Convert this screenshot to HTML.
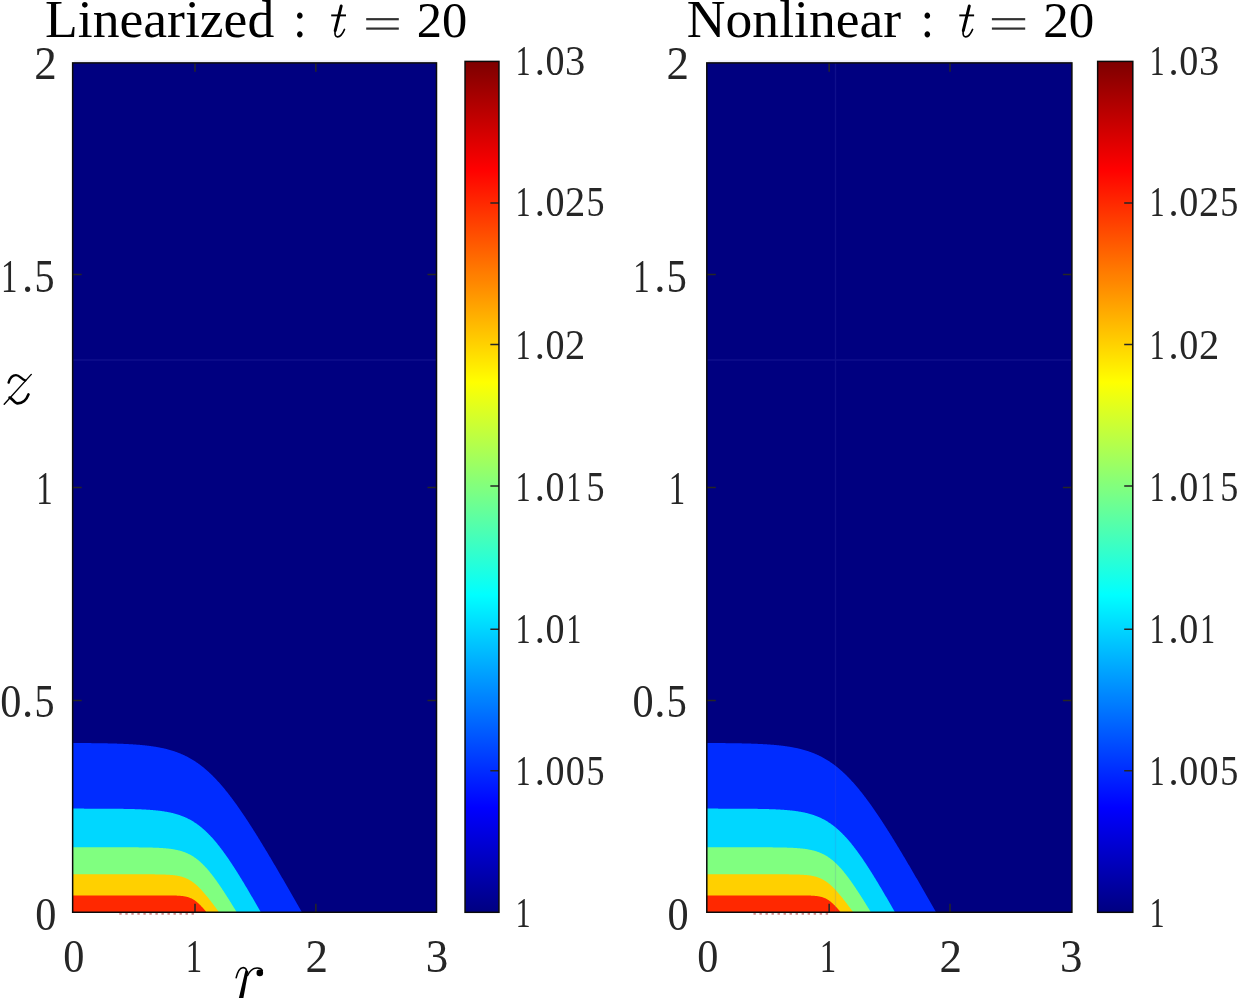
<!DOCTYPE html>
<html><head><meta charset="utf-8"><style>
html,body{margin:0;padding:0;background:#fff;width:1240px;height:999px;overflow:hidden}
svg{display:block;will-change:transform}
text{fill:#000}
.tl{fill:#262626}
</style></head><body>
<svg width="1240" height="999" viewBox="0 0 1240 999">
<defs><linearGradient id="jet" x1="0" y1="0" x2="0" y2="1"><stop offset="0.0020" stop-color="#800000"/><stop offset="0.0059" stop-color="#830000"/><stop offset="0.0098" stop-color="#870000"/><stop offset="0.0137" stop-color="#8b0000"/><stop offset="0.0176" stop-color="#8f0000"/><stop offset="0.0215" stop-color="#930000"/><stop offset="0.0254" stop-color="#970000"/><stop offset="0.0293" stop-color="#9b0000"/><stop offset="0.0332" stop-color="#9f0000"/><stop offset="0.0371" stop-color="#a30000"/><stop offset="0.0410" stop-color="#a70000"/><stop offset="0.0449" stop-color="#ab0000"/><stop offset="0.0488" stop-color="#af0000"/><stop offset="0.0527" stop-color="#b30000"/><stop offset="0.0566" stop-color="#b70000"/><stop offset="0.0605" stop-color="#bb0000"/><stop offset="0.0645" stop-color="#bf0000"/><stop offset="0.0684" stop-color="#c30000"/><stop offset="0.0723" stop-color="#c70000"/><stop offset="0.0762" stop-color="#cb0000"/><stop offset="0.0801" stop-color="#cf0000"/><stop offset="0.0840" stop-color="#d30000"/><stop offset="0.0879" stop-color="#d70000"/><stop offset="0.0918" stop-color="#db0000"/><stop offset="0.0957" stop-color="#df0000"/><stop offset="0.0996" stop-color="#e30000"/><stop offset="0.1035" stop-color="#e70000"/><stop offset="0.1074" stop-color="#eb0000"/><stop offset="0.1113" stop-color="#ef0000"/><stop offset="0.1152" stop-color="#f30000"/><stop offset="0.1191" stop-color="#f70000"/><stop offset="0.1230" stop-color="#fb0000"/><stop offset="0.1270" stop-color="#ff0000"/><stop offset="0.1309" stop-color="#ff0400"/><stop offset="0.1348" stop-color="#ff0800"/><stop offset="0.1387" stop-color="#ff0c00"/><stop offset="0.1426" stop-color="#ff1000"/><stop offset="0.1465" stop-color="#ff1400"/><stop offset="0.1504" stop-color="#ff1800"/><stop offset="0.1543" stop-color="#ff1c00"/><stop offset="0.1582" stop-color="#ff2000"/><stop offset="0.1621" stop-color="#ff2400"/><stop offset="0.1660" stop-color="#ff2800"/><stop offset="0.1699" stop-color="#ff2c00"/><stop offset="0.1738" stop-color="#ff3000"/><stop offset="0.1777" stop-color="#ff3400"/><stop offset="0.1816" stop-color="#ff3800"/><stop offset="0.1855" stop-color="#ff3c00"/><stop offset="0.1895" stop-color="#ff4000"/><stop offset="0.1934" stop-color="#ff4400"/><stop offset="0.1973" stop-color="#ff4800"/><stop offset="0.2012" stop-color="#ff4c00"/><stop offset="0.2051" stop-color="#ff5000"/><stop offset="0.2090" stop-color="#ff5400"/><stop offset="0.2129" stop-color="#ff5800"/><stop offset="0.2168" stop-color="#ff5c00"/><stop offset="0.2207" stop-color="#ff6000"/><stop offset="0.2246" stop-color="#ff6400"/><stop offset="0.2285" stop-color="#ff6800"/><stop offset="0.2324" stop-color="#ff6c00"/><stop offset="0.2363" stop-color="#ff7000"/><stop offset="0.2402" stop-color="#ff7400"/><stop offset="0.2441" stop-color="#ff7800"/><stop offset="0.2480" stop-color="#ff7c00"/><stop offset="0.2520" stop-color="#ff8000"/><stop offset="0.2559" stop-color="#ff8300"/><stop offset="0.2598" stop-color="#ff8700"/><stop offset="0.2637" stop-color="#ff8b00"/><stop offset="0.2676" stop-color="#ff8f00"/><stop offset="0.2715" stop-color="#ff9300"/><stop offset="0.2754" stop-color="#ff9700"/><stop offset="0.2793" stop-color="#ff9b00"/><stop offset="0.2832" stop-color="#ff9f00"/><stop offset="0.2871" stop-color="#ffa300"/><stop offset="0.2910" stop-color="#ffa700"/><stop offset="0.2949" stop-color="#ffab00"/><stop offset="0.2988" stop-color="#ffaf00"/><stop offset="0.3027" stop-color="#ffb300"/><stop offset="0.3066" stop-color="#ffb700"/><stop offset="0.3105" stop-color="#ffbb00"/><stop offset="0.3145" stop-color="#ffbf00"/><stop offset="0.3184" stop-color="#ffc300"/><stop offset="0.3223" stop-color="#ffc700"/><stop offset="0.3262" stop-color="#ffcb00"/><stop offset="0.3301" stop-color="#ffcf00"/><stop offset="0.3340" stop-color="#ffd300"/><stop offset="0.3379" stop-color="#ffd700"/><stop offset="0.3418" stop-color="#ffdb00"/><stop offset="0.3457" stop-color="#ffdf00"/><stop offset="0.3496" stop-color="#ffe300"/><stop offset="0.3535" stop-color="#ffe700"/><stop offset="0.3574" stop-color="#ffeb00"/><stop offset="0.3613" stop-color="#ffef00"/><stop offset="0.3652" stop-color="#fff300"/><stop offset="0.3691" stop-color="#fff700"/><stop offset="0.3730" stop-color="#fffb00"/><stop offset="0.3770" stop-color="#ffff00"/><stop offset="0.3809" stop-color="#fbff04"/><stop offset="0.3848" stop-color="#f7ff08"/><stop offset="0.3887" stop-color="#f3ff0c"/><stop offset="0.3926" stop-color="#efff10"/><stop offset="0.3965" stop-color="#ebff14"/><stop offset="0.4004" stop-color="#e7ff18"/><stop offset="0.4043" stop-color="#e3ff1c"/><stop offset="0.4082" stop-color="#dfff20"/><stop offset="0.4121" stop-color="#dbff24"/><stop offset="0.4160" stop-color="#d7ff28"/><stop offset="0.4199" stop-color="#d3ff2c"/><stop offset="0.4238" stop-color="#cfff30"/><stop offset="0.4277" stop-color="#cbff34"/><stop offset="0.4316" stop-color="#c7ff38"/><stop offset="0.4355" stop-color="#c3ff3c"/><stop offset="0.4395" stop-color="#bfff40"/><stop offset="0.4434" stop-color="#bbff44"/><stop offset="0.4473" stop-color="#b7ff48"/><stop offset="0.4512" stop-color="#b3ff4c"/><stop offset="0.4551" stop-color="#afff50"/><stop offset="0.4590" stop-color="#abff54"/><stop offset="0.4629" stop-color="#a7ff58"/><stop offset="0.4668" stop-color="#a3ff5c"/><stop offset="0.4707" stop-color="#9fff60"/><stop offset="0.4746" stop-color="#9bff64"/><stop offset="0.4785" stop-color="#97ff68"/><stop offset="0.4824" stop-color="#93ff6c"/><stop offset="0.4863" stop-color="#8fff70"/><stop offset="0.4902" stop-color="#8bff74"/><stop offset="0.4941" stop-color="#87ff78"/><stop offset="0.4980" stop-color="#83ff7c"/><stop offset="0.5020" stop-color="#80ff80"/><stop offset="0.5059" stop-color="#7cff83"/><stop offset="0.5098" stop-color="#78ff87"/><stop offset="0.5137" stop-color="#74ff8b"/><stop offset="0.5176" stop-color="#70ff8f"/><stop offset="0.5215" stop-color="#6cff93"/><stop offset="0.5254" stop-color="#68ff97"/><stop offset="0.5293" stop-color="#64ff9b"/><stop offset="0.5332" stop-color="#60ff9f"/><stop offset="0.5371" stop-color="#5cffa3"/><stop offset="0.5410" stop-color="#58ffa7"/><stop offset="0.5449" stop-color="#54ffab"/><stop offset="0.5488" stop-color="#50ffaf"/><stop offset="0.5527" stop-color="#4cffb3"/><stop offset="0.5566" stop-color="#48ffb7"/><stop offset="0.5605" stop-color="#44ffbb"/><stop offset="0.5645" stop-color="#40ffbf"/><stop offset="0.5684" stop-color="#3cffc3"/><stop offset="0.5723" stop-color="#38ffc7"/><stop offset="0.5762" stop-color="#34ffcb"/><stop offset="0.5801" stop-color="#30ffcf"/><stop offset="0.5840" stop-color="#2cffd3"/><stop offset="0.5879" stop-color="#28ffd7"/><stop offset="0.5918" stop-color="#24ffdb"/><stop offset="0.5957" stop-color="#20ffdf"/><stop offset="0.5996" stop-color="#1cffe3"/><stop offset="0.6035" stop-color="#18ffe7"/><stop offset="0.6074" stop-color="#14ffeb"/><stop offset="0.6113" stop-color="#10ffef"/><stop offset="0.6152" stop-color="#0cfff3"/><stop offset="0.6191" stop-color="#08fff7"/><stop offset="0.6230" stop-color="#04fffb"/><stop offset="0.6270" stop-color="#00ffff"/><stop offset="0.6309" stop-color="#00fbff"/><stop offset="0.6348" stop-color="#00f7ff"/><stop offset="0.6387" stop-color="#00f3ff"/><stop offset="0.6426" stop-color="#00efff"/><stop offset="0.6465" stop-color="#00ebff"/><stop offset="0.6504" stop-color="#00e7ff"/><stop offset="0.6543" stop-color="#00e3ff"/><stop offset="0.6582" stop-color="#00dfff"/><stop offset="0.6621" stop-color="#00dbff"/><stop offset="0.6660" stop-color="#00d7ff"/><stop offset="0.6699" stop-color="#00d3ff"/><stop offset="0.6738" stop-color="#00cfff"/><stop offset="0.6777" stop-color="#00cbff"/><stop offset="0.6816" stop-color="#00c7ff"/><stop offset="0.6855" stop-color="#00c3ff"/><stop offset="0.6895" stop-color="#00bfff"/><stop offset="0.6934" stop-color="#00bbff"/><stop offset="0.6973" stop-color="#00b7ff"/><stop offset="0.7012" stop-color="#00b3ff"/><stop offset="0.7051" stop-color="#00afff"/><stop offset="0.7090" stop-color="#00abff"/><stop offset="0.7129" stop-color="#00a7ff"/><stop offset="0.7168" stop-color="#00a3ff"/><stop offset="0.7207" stop-color="#009fff"/><stop offset="0.7246" stop-color="#009bff"/><stop offset="0.7285" stop-color="#0097ff"/><stop offset="0.7324" stop-color="#0093ff"/><stop offset="0.7363" stop-color="#008fff"/><stop offset="0.7402" stop-color="#008bff"/><stop offset="0.7441" stop-color="#0087ff"/><stop offset="0.7480" stop-color="#0083ff"/><stop offset="0.7520" stop-color="#0080ff"/><stop offset="0.7559" stop-color="#007cff"/><stop offset="0.7598" stop-color="#0078ff"/><stop offset="0.7637" stop-color="#0074ff"/><stop offset="0.7676" stop-color="#0070ff"/><stop offset="0.7715" stop-color="#006cff"/><stop offset="0.7754" stop-color="#0068ff"/><stop offset="0.7793" stop-color="#0064ff"/><stop offset="0.7832" stop-color="#0060ff"/><stop offset="0.7871" stop-color="#005cff"/><stop offset="0.7910" stop-color="#0058ff"/><stop offset="0.7949" stop-color="#0054ff"/><stop offset="0.7988" stop-color="#0050ff"/><stop offset="0.8027" stop-color="#004cff"/><stop offset="0.8066" stop-color="#0048ff"/><stop offset="0.8105" stop-color="#0044ff"/><stop offset="0.8145" stop-color="#0040ff"/><stop offset="0.8184" stop-color="#003cff"/><stop offset="0.8223" stop-color="#0038ff"/><stop offset="0.8262" stop-color="#0034ff"/><stop offset="0.8301" stop-color="#0030ff"/><stop offset="0.8340" stop-color="#002cff"/><stop offset="0.8379" stop-color="#0028ff"/><stop offset="0.8418" stop-color="#0024ff"/><stop offset="0.8457" stop-color="#0020ff"/><stop offset="0.8496" stop-color="#001cff"/><stop offset="0.8535" stop-color="#0018ff"/><stop offset="0.8574" stop-color="#0014ff"/><stop offset="0.8613" stop-color="#0010ff"/><stop offset="0.8652" stop-color="#000cff"/><stop offset="0.8691" stop-color="#0008ff"/><stop offset="0.8730" stop-color="#0004ff"/><stop offset="0.8770" stop-color="#0000ff"/><stop offset="0.8809" stop-color="#0000fb"/><stop offset="0.8848" stop-color="#0000f7"/><stop offset="0.8887" stop-color="#0000f3"/><stop offset="0.8926" stop-color="#0000ef"/><stop offset="0.8965" stop-color="#0000eb"/><stop offset="0.9004" stop-color="#0000e7"/><stop offset="0.9043" stop-color="#0000e3"/><stop offset="0.9082" stop-color="#0000df"/><stop offset="0.9121" stop-color="#0000db"/><stop offset="0.9160" stop-color="#0000d7"/><stop offset="0.9199" stop-color="#0000d3"/><stop offset="0.9238" stop-color="#0000cf"/><stop offset="0.9277" stop-color="#0000cb"/><stop offset="0.9316" stop-color="#0000c7"/><stop offset="0.9355" stop-color="#0000c3"/><stop offset="0.9395" stop-color="#0000bf"/><stop offset="0.9434" stop-color="#0000bb"/><stop offset="0.9473" stop-color="#0000b7"/><stop offset="0.9512" stop-color="#0000b3"/><stop offset="0.9551" stop-color="#0000af"/><stop offset="0.9590" stop-color="#0000ab"/><stop offset="0.9629" stop-color="#0000a7"/><stop offset="0.9668" stop-color="#0000a3"/><stop offset="0.9707" stop-color="#00009f"/><stop offset="0.9746" stop-color="#00009b"/><stop offset="0.9785" stop-color="#000097"/><stop offset="0.9824" stop-color="#000093"/><stop offset="0.9863" stop-color="#00008f"/><stop offset="0.9902" stop-color="#00008b"/><stop offset="0.9941" stop-color="#000087"/><stop offset="0.9980" stop-color="#000083"/></linearGradient></defs>
<rect width="1240" height="999" fill="#fff"/>
<rect x="74.15" y="60.30" width="362.35" height="1.8" fill="#eeeefb"/>
<rect x="72.65" y="62.9" width="363.85" height="849.35" fill="#000080"/>
<path d="M72.65,912.25 L72.65,742.99 L73.08,742.99 L73.51,743.00 L73.94,743.00 L74.37,743.00 L74.80,743.00 L75.23,743.00 L75.66,743.01 L76.09,743.01 L76.51,743.01 L76.94,743.01 L77.37,743.02 L77.80,743.02 L78.23,743.02 L78.66,743.02 L79.09,743.03 L79.52,743.03 L79.95,743.03 L80.38,743.03 L80.81,743.04 L81.24,743.04 L81.67,743.04 L82.10,743.05 L82.53,743.05 L82.96,743.05 L83.38,743.06 L83.81,743.06 L84.24,743.06 L84.67,743.07 L85.10,743.07 L85.53,743.07 L85.96,743.08 L86.39,743.08 L86.82,743.08 L87.25,743.09 L87.68,743.09 L88.11,743.09 L88.54,743.10 L88.97,743.10 L89.40,743.11 L89.83,743.11 L90.25,743.12 L90.68,743.12 L91.11,743.12 L91.54,743.13 L91.97,743.13 L92.40,743.14 L92.83,743.14 L93.26,743.15 L93.69,743.15 L94.12,743.16 L94.55,743.16 L94.98,743.17 L95.41,743.17 L95.84,743.18 L96.27,743.18 L96.70,743.19 L97.12,743.20 L97.55,743.20 L97.98,743.21 L98.41,743.21 L98.84,743.22 L99.27,743.23 L99.70,743.23 L100.13,743.24 L100.56,743.25 L100.99,743.25 L101.42,743.26 L101.85,743.27 L102.28,743.28 L102.71,743.28 L103.14,743.29 L103.57,743.30 L103.99,743.31 L104.42,743.31 L104.85,743.32 L105.28,743.33 L105.71,743.34 L106.14,743.35 L106.57,743.36 L107.00,743.36 L107.43,743.37 L107.86,743.38 L108.29,743.39 L108.72,743.40 L109.15,743.41 L109.58,743.42 L110.01,743.43 L110.44,743.44 L110.87,743.45 L111.29,743.46 L111.72,743.47 L112.15,743.49 L112.58,743.50 L113.01,743.51 L113.44,743.52 L113.87,743.53 L114.30,743.55 L114.73,743.56 L115.16,743.57 L115.59,743.58 L116.02,743.60 L116.45,743.61 L116.88,743.62 L117.31,743.64 L117.74,743.65 L118.16,743.67 L118.59,743.68 L119.02,743.70 L119.45,743.71 L119.88,743.73 L120.31,743.74 L120.74,743.76 L121.17,743.78 L121.60,743.79 L122.03,743.81 L122.46,743.83 L122.89,743.85 L123.32,743.86 L123.75,743.88 L124.18,743.90 L124.61,743.92 L125.03,743.94 L125.46,743.96 L125.89,743.98 L126.32,744.00 L126.75,744.02 L127.18,744.04 L127.61,744.06 L128.04,744.09 L128.47,744.11 L128.90,744.13 L129.33,744.16 L129.76,744.18 L130.19,744.20 L130.62,744.23 L131.05,744.25 L131.48,744.28 L131.90,744.31 L132.33,744.33 L132.76,744.36 L133.19,744.39 L133.62,744.41 L134.05,744.44 L134.48,744.47 L134.91,744.50 L135.34,744.53 L135.77,744.56 L136.20,744.59 L136.63,744.63 L137.06,744.66 L137.49,744.69 L137.92,744.73 L138.35,744.76 L138.77,744.80 L139.20,744.83 L139.63,744.87 L140.06,744.90 L140.49,744.94 L140.92,744.98 L141.35,745.02 L141.78,745.06 L142.21,745.10 L142.64,745.14 L143.07,745.18 L143.50,745.22 L143.93,745.27 L144.36,745.31 L144.79,745.36 L145.22,745.40 L145.64,745.45 L146.07,745.50 L146.50,745.55 L146.93,745.59 L147.36,745.64 L147.79,745.70 L148.22,745.75 L148.65,745.80 L149.08,745.85 L149.51,745.91 L149.94,745.96 L150.37,746.02 L150.80,746.08 L151.23,746.14 L151.66,746.20 L152.09,746.26 L152.52,746.32 L152.94,746.38 L153.37,746.45 L153.80,746.51 L154.23,746.58 L154.66,746.64 L155.09,746.71 L155.52,746.78 L155.95,746.85 L156.38,746.93 L156.81,747.00 L157.24,747.07 L157.67,747.15 L158.10,747.23 L158.53,747.31 L158.96,747.39 L159.39,747.47 L159.81,747.55 L160.24,747.63 L160.67,747.72 L161.10,747.81 L161.53,747.89 L161.96,747.98 L162.39,748.08 L162.82,748.17 L163.25,748.26 L163.68,748.36 L164.11,748.46 L164.54,748.56 L164.97,748.66 L165.40,748.76 L165.83,748.87 L166.26,748.97 L166.68,749.08 L167.11,749.19 L167.54,749.30 L167.97,749.41 L168.40,749.53 L168.83,749.64 L169.26,749.76 L169.69,749.88 L170.12,750.01 L170.55,750.13 L170.98,750.26 L171.41,750.39 L171.84,750.52 L172.27,750.65 L172.70,750.78 L173.13,750.92 L173.55,751.06 L173.98,751.20 L174.41,751.35 L174.84,751.49 L175.27,751.64 L175.70,751.79 L176.13,751.94 L176.56,752.10 L176.99,752.25 L177.42,752.41 L177.85,752.57 L178.28,752.74 L178.71,752.91 L179.14,753.08 L179.57,753.25 L180.00,753.42 L180.42,753.60 L180.85,753.78 L181.28,753.96 L181.71,754.14 L182.14,754.33 L182.57,754.52 L183.00,754.71 L183.43,754.91 L183.86,755.11 L184.29,755.31 L184.72,755.51 L185.15,755.72 L185.58,755.93 L186.01,756.14 L186.44,756.36 L186.87,756.58 L187.30,756.80 L187.72,757.02 L188.15,757.25 L188.58,757.48 L189.01,757.71 L189.44,757.95 L189.87,758.19 L190.30,758.43 L190.73,758.68 L191.16,758.93 L191.59,759.18 L192.02,759.44 L192.45,759.70 L192.88,759.96 L193.31,760.22 L193.74,760.49 L194.17,760.76 L194.59,761.04 L195.02,761.32 L195.45,761.60 L195.88,761.89 L196.31,762.17 L196.74,762.47 L197.17,762.76 L197.60,763.06 L198.03,763.36 L198.46,763.67 L198.89,763.98 L199.32,764.29 L199.75,764.61 L200.18,764.93 L200.61,765.25 L201.04,765.58 L201.46,765.91 L201.89,766.25 L202.32,766.58 L202.75,766.93 L203.18,767.27 L203.61,767.62 L204.04,767.97 L204.47,768.33 L204.90,768.69 L205.33,769.05 L205.76,769.42 L206.19,769.79 L206.62,770.16 L207.05,770.54 L207.48,770.92 L207.91,771.31 L208.33,771.69 L208.76,772.09 L209.19,772.48 L209.62,772.88 L210.05,773.28 L210.48,773.69 L210.91,774.10 L211.34,774.52 L211.77,774.93 L212.20,775.35 L212.63,775.78 L213.06,776.21 L213.49,776.64 L213.92,777.08 L214.35,777.51 L214.78,777.96 L215.20,778.40 L215.63,778.85 L216.06,779.31 L216.49,779.76 L216.92,780.22 L217.35,780.69 L217.78,781.16 L218.21,781.63 L218.64,782.10 L219.07,782.58 L219.50,783.06 L219.93,783.54 L220.36,784.03 L220.79,784.52 L221.22,785.02 L221.65,785.51 L222.08,786.02 L222.50,786.52 L222.93,787.03 L223.36,787.54 L223.79,788.05 L224.22,788.57 L224.65,789.09 L225.08,789.62 L225.51,790.14 L225.94,790.67 L226.37,791.21 L226.80,791.74 L227.23,792.28 L227.66,792.82 L228.09,793.37 L228.52,793.92 L228.95,794.47 L229.37,795.02 L229.80,795.58 L230.23,796.14 L230.66,796.70 L231.09,797.27 L231.52,797.84 L231.95,798.41 L232.38,798.98 L232.81,799.56 L233.24,800.14 L233.67,800.72 L234.10,801.31 L234.53,801.89 L234.96,802.48 L235.39,803.08 L235.82,803.67 L236.24,804.27 L236.67,804.87 L237.10,805.47 L237.53,806.08 L237.96,806.69 L238.39,807.30 L238.82,807.91 L239.25,808.52 L239.68,809.14 L240.11,809.76 L240.54,810.38 L240.97,811.00 L241.40,811.63 L241.83,812.26 L242.26,812.89 L242.69,813.52 L243.11,814.16 L243.54,814.79 L243.97,815.43 L244.40,816.07 L244.83,816.72 L245.26,817.36 L245.69,818.01 L246.12,818.66 L246.55,819.31 L246.98,819.96 L247.41,820.61 L247.84,821.27 L248.27,821.93 L248.70,822.59 L249.13,823.25 L249.56,823.91 L249.98,824.58 L250.41,825.24 L250.84,825.91 L251.27,826.58 L251.70,827.25 L252.13,827.93 L252.56,828.60 L252.99,829.28 L253.42,829.95 L253.85,830.63 L254.28,831.31 L254.71,832.00 L255.14,832.68 L255.57,833.37 L256.00,834.05 L256.43,834.74 L256.86,835.43 L257.28,836.12 L257.71,836.81 L258.14,837.51 L258.57,838.20 L259.00,838.90 L259.43,839.59 L259.86,840.29 L260.29,840.99 L260.72,841.69 L261.15,842.39 L261.58,843.10 L262.01,843.80 L262.44,844.50 L262.87,845.21 L263.30,845.92 L263.73,846.63 L264.15,847.34 L264.58,848.05 L265.01,848.76 L265.44,849.47 L265.87,850.18 L266.30,850.90 L266.73,851.61 L267.16,852.33 L267.59,853.05 L268.02,853.76 L268.45,854.48 L268.88,855.20 L269.31,855.92 L269.74,856.65 L270.17,857.37 L270.60,858.09 L271.02,858.82 L271.45,859.54 L271.88,860.27 L272.31,860.99 L272.74,861.72 L273.17,862.45 L273.60,863.18 L274.03,863.90 L274.46,864.63 L274.89,865.37 L275.32,866.10 L275.75,866.83 L276.18,867.56 L276.61,868.29 L277.04,869.03 L277.47,869.76 L277.89,870.50 L278.32,871.23 L278.75,871.97 L279.18,872.71 L279.61,873.45 L280.04,874.18 L280.47,874.92 L280.90,875.66 L281.33,876.40 L281.76,877.14 L282.19,877.88 L282.62,878.62 L283.05,879.36 L283.48,880.11 L283.91,880.85 L284.34,881.59 L284.76,882.34 L285.19,883.08 L285.62,883.82 L286.05,884.57 L286.48,885.32 L286.91,886.06 L287.34,886.81 L287.77,887.55 L288.20,888.30 L288.63,889.05 L289.06,889.80 L289.49,890.54 L289.92,891.29 L290.35,892.04 L290.78,892.79 L291.21,893.54 L291.63,894.29 L292.06,895.04 L292.49,895.79 L292.92,896.54 L293.35,897.29 L293.78,898.05 L294.21,898.80 L294.64,899.55 L295.07,900.30 L295.50,901.06 L295.93,901.81 L296.36,902.56 L296.79,903.32 L297.22,904.07 L297.65,904.82 L298.08,905.58 L298.51,906.33 L298.93,907.09 L299.36,907.84 L299.79,908.60 L300.22,909.36 L300.65,910.11 L301.08,910.87 L301.51,911.62 L301.87,912.25 Z" fill="#002cff"/>
<path d="M72.65,912.25 L72.65,808.61 L73.08,808.61 L73.51,808.61 L73.94,808.61 L74.37,808.61 L74.80,808.61 L75.23,808.61 L75.66,808.61 L76.09,808.61 L76.51,808.61 L76.94,808.62 L77.37,808.62 L77.80,808.62 L78.23,808.62 L78.66,808.62 L79.09,808.62 L79.52,808.62 L79.95,808.62 L80.38,808.62 L80.81,808.62 L81.24,808.62 L81.67,808.62 L82.10,808.62 L82.53,808.62 L82.96,808.62 L83.38,808.62 L83.81,808.62 L84.24,808.63 L84.67,808.63 L85.10,808.63 L85.53,808.63 L85.96,808.63 L86.39,808.63 L86.82,808.63 L87.25,808.63 L87.68,808.63 L88.11,808.63 L88.54,808.63 L88.97,808.63 L89.40,808.63 L89.83,808.64 L90.25,808.64 L90.68,808.64 L91.11,808.64 L91.54,808.64 L91.97,808.64 L92.40,808.64 L92.83,808.64 L93.26,808.64 L93.69,808.65 L94.12,808.65 L94.55,808.65 L94.98,808.65 L95.41,808.65 L95.84,808.65 L96.27,808.65 L96.70,808.66 L97.12,808.66 L97.55,808.66 L97.98,808.66 L98.41,808.66 L98.84,808.66 L99.27,808.66 L99.70,808.67 L100.13,808.67 L100.56,808.67 L100.99,808.67 L101.42,808.67 L101.85,808.68 L102.28,808.68 L102.71,808.68 L103.14,808.68 L103.57,808.68 L103.99,808.69 L104.42,808.69 L104.85,808.69 L105.28,808.69 L105.71,808.70 L106.14,808.70 L106.57,808.70 L107.00,808.70 L107.43,808.71 L107.86,808.71 L108.29,808.71 L108.72,808.71 L109.15,808.72 L109.58,808.72 L110.01,808.72 L110.44,808.73 L110.87,808.73 L111.29,808.73 L111.72,808.74 L112.15,808.74 L112.58,808.74 L113.01,808.75 L113.44,808.75 L113.87,808.76 L114.30,808.76 L114.73,808.76 L115.16,808.77 L115.59,808.77 L116.02,808.78 L116.45,808.78 L116.88,808.79 L117.31,808.79 L117.74,808.80 L118.16,808.80 L118.59,808.81 L119.02,808.81 L119.45,808.82 L119.88,808.82 L120.31,808.83 L120.74,808.83 L121.17,808.84 L121.60,808.85 L122.03,808.85 L122.46,808.86 L122.89,808.86 L123.32,808.87 L123.75,808.88 L124.18,808.89 L124.61,808.89 L125.03,808.90 L125.46,808.91 L125.89,808.92 L126.32,808.92 L126.75,808.93 L127.18,808.94 L127.61,808.95 L128.04,808.96 L128.47,808.97 L128.90,808.98 L129.33,808.99 L129.76,809.00 L130.19,809.01 L130.62,809.02 L131.05,809.03 L131.48,809.04 L131.90,809.05 L132.33,809.06 L132.76,809.07 L133.19,809.08 L133.62,809.09 L134.05,809.11 L134.48,809.12 L134.91,809.13 L135.34,809.15 L135.77,809.16 L136.20,809.17 L136.63,809.19 L137.06,809.20 L137.49,809.22 L137.92,809.23 L138.35,809.25 L138.77,809.27 L139.20,809.28 L139.63,809.30 L140.06,809.32 L140.49,809.34 L140.92,809.35 L141.35,809.37 L141.78,809.39 L142.21,809.41 L142.64,809.43 L143.07,809.45 L143.50,809.48 L143.93,809.50 L144.36,809.52 L144.79,809.54 L145.22,809.57 L145.64,809.59 L146.07,809.62 L146.50,809.64 L146.93,809.67 L147.36,809.69 L147.79,809.72 L148.22,809.75 L148.65,809.78 L149.08,809.81 L149.51,809.84 L149.94,809.87 L150.37,809.90 L150.80,809.93 L151.23,809.96 L151.66,810.00 L152.09,810.03 L152.52,810.07 L152.94,810.10 L153.37,810.14 L153.80,810.18 L154.23,810.22 L154.66,810.26 L155.09,810.30 L155.52,810.34 L155.95,810.38 L156.38,810.43 L156.81,810.47 L157.24,810.52 L157.67,810.56 L158.10,810.61 L158.53,810.66 L158.96,810.71 L159.39,810.76 L159.81,810.82 L160.24,810.87 L160.67,810.93 L161.10,810.98 L161.53,811.04 L161.96,811.10 L162.39,811.16 L162.82,811.22 L163.25,811.29 L163.68,811.35 L164.11,811.42 L164.54,811.48 L164.97,811.55 L165.40,811.63 L165.83,811.70 L166.26,811.77 L166.68,811.85 L167.11,811.93 L167.54,812.01 L167.97,812.09 L168.40,812.17 L168.83,812.26 L169.26,812.34 L169.69,812.43 L170.12,812.52 L170.55,812.62 L170.98,812.71 L171.41,812.81 L171.84,812.91 L172.27,813.01 L172.70,813.11 L173.13,813.22 L173.55,813.33 L173.98,813.44 L174.41,813.55 L174.84,813.67 L175.27,813.79 L175.70,813.91 L176.13,814.03 L176.56,814.16 L176.99,814.28 L177.42,814.42 L177.85,814.55 L178.28,814.69 L178.71,814.83 L179.14,814.97 L179.57,815.11 L180.00,815.26 L180.42,815.41 L180.85,815.57 L181.28,815.72 L181.71,815.88 L182.14,816.05 L182.57,816.22 L183.00,816.39 L183.43,816.56 L183.86,816.74 L184.29,816.92 L184.72,817.10 L185.15,817.29 L185.58,817.48 L186.01,817.68 L186.44,817.87 L186.87,818.08 L187.30,818.28 L187.72,818.49 L188.15,818.71 L188.58,818.92 L189.01,819.15 L189.44,819.37 L189.87,819.60 L190.30,819.83 L190.73,820.07 L191.16,820.31 L191.59,820.56 L192.02,820.81 L192.45,821.07 L192.88,821.32 L193.31,821.59 L193.74,821.86 L194.17,822.13 L194.59,822.40 L195.02,822.69 L195.45,822.97 L195.88,823.26 L196.31,823.56 L196.74,823.86 L197.17,824.16 L197.60,824.47 L198.03,824.78 L198.46,825.10 L198.89,825.42 L199.32,825.75 L199.75,826.08 L200.18,826.42 L200.61,826.76 L201.04,827.11 L201.46,827.46 L201.89,827.82 L202.32,828.18 L202.75,828.54 L203.18,828.92 L203.61,829.29 L204.04,829.67 L204.47,830.06 L204.90,830.45 L205.33,830.84 L205.76,831.25 L206.19,831.65 L206.62,832.06 L207.05,832.48 L207.48,832.90 L207.91,833.32 L208.33,833.75 L208.76,834.19 L209.19,834.63 L209.62,835.07 L210.05,835.52 L210.48,835.97 L210.91,836.43 L211.34,836.90 L211.77,837.37 L212.20,837.84 L212.63,838.32 L213.06,838.80 L213.49,839.29 L213.92,839.78 L214.35,840.27 L214.78,840.77 L215.20,841.28 L215.63,841.79 L216.06,842.30 L216.49,842.82 L216.92,843.35 L217.35,843.87 L217.78,844.41 L218.21,844.94 L218.64,845.48 L219.07,846.03 L219.50,846.58 L219.93,847.13 L220.36,847.69 L220.79,848.25 L221.22,848.81 L221.65,849.38 L222.08,849.95 L222.50,850.53 L222.93,851.11 L223.36,851.70 L223.79,852.28 L224.22,852.88 L224.65,853.47 L225.08,854.07 L225.51,854.67 L225.94,855.28 L226.37,855.89 L226.80,856.50 L227.23,857.12 L227.66,857.74 L228.09,858.36 L228.52,858.99 L228.95,859.62 L229.37,860.25 L229.80,860.89 L230.23,861.52 L230.66,862.17 L231.09,862.81 L231.52,863.46 L231.95,864.11 L232.38,864.76 L232.81,865.42 L233.24,866.08 L233.67,866.74 L234.10,867.40 L234.53,868.07 L234.96,868.74 L235.39,869.41 L235.82,870.08 L236.24,870.76 L236.67,871.44 L237.10,872.12 L237.53,872.80 L237.96,873.49 L238.39,874.17 L238.82,874.86 L239.25,875.56 L239.68,876.25 L240.11,876.95 L240.54,877.65 L240.97,878.35 L241.40,879.05 L241.83,879.75 L242.26,880.46 L242.69,881.16 L243.11,881.87 L243.54,882.58 L243.97,883.30 L244.40,884.01 L244.83,884.73 L245.26,885.45 L245.69,886.16 L246.12,886.89 L246.55,887.61 L246.98,888.33 L247.41,889.06 L247.84,889.78 L248.27,890.51 L248.70,891.24 L249.13,891.97 L249.56,892.70 L249.98,893.44 L250.41,894.17 L250.84,894.91 L251.27,895.64 L251.70,896.38 L252.13,897.12 L252.56,897.86 L252.99,898.60 L253.42,899.35 L253.85,900.09 L254.28,900.83 L254.71,901.58 L255.14,902.33 L255.57,903.07 L256.00,903.82 L256.43,904.57 L256.86,905.32 L257.28,906.07 L257.71,906.83 L258.14,907.58 L258.57,908.33 L259.00,909.09 L259.43,909.84 L259.86,910.60 L260.29,911.36 L260.72,912.11 L260.80,912.25 Z" fill="#00d7ff"/>
<path d="M72.65,912.25 L72.65,847.27 L73.08,847.27 L73.51,847.27 L73.94,847.27 L74.37,847.27 L74.80,847.27 L75.23,847.27 L75.66,847.27 L76.09,847.27 L76.51,847.27 L76.94,847.27 L77.37,847.27 L77.80,847.27 L78.23,847.27 L78.66,847.27 L79.09,847.27 L79.52,847.27 L79.95,847.27 L80.38,847.27 L80.81,847.27 L81.24,847.27 L81.67,847.27 L82.10,847.27 L82.53,847.27 L82.96,847.27 L83.38,847.27 L83.81,847.27 L84.24,847.27 L84.67,847.27 L85.10,847.27 L85.53,847.27 L85.96,847.27 L86.39,847.27 L86.82,847.27 L87.25,847.27 L87.68,847.27 L88.11,847.27 L88.54,847.27 L88.97,847.27 L89.40,847.27 L89.83,847.27 L90.25,847.27 L90.68,847.27 L91.11,847.27 L91.54,847.27 L91.97,847.27 L92.40,847.27 L92.83,847.27 L93.26,847.27 L93.69,847.27 L94.12,847.27 L94.55,847.27 L94.98,847.27 L95.41,847.27 L95.84,847.27 L96.27,847.27 L96.70,847.27 L97.12,847.27 L97.55,847.27 L97.98,847.27 L98.41,847.27 L98.84,847.27 L99.27,847.27 L99.70,847.27 L100.13,847.27 L100.56,847.27 L100.99,847.27 L101.42,847.27 L101.85,847.27 L102.28,847.27 L102.71,847.27 L103.14,847.27 L103.57,847.27 L103.99,847.27 L104.42,847.27 L104.85,847.27 L105.28,847.27 L105.71,847.28 L106.14,847.28 L106.57,847.28 L107.00,847.28 L107.43,847.28 L107.86,847.28 L108.29,847.28 L108.72,847.28 L109.15,847.28 L109.58,847.28 L110.01,847.28 L110.44,847.28 L110.87,847.28 L111.29,847.28 L111.72,847.28 L112.15,847.28 L112.58,847.28 L113.01,847.28 L113.44,847.28 L113.87,847.28 L114.30,847.28 L114.73,847.28 L115.16,847.28 L115.59,847.28 L116.02,847.28 L116.45,847.28 L116.88,847.28 L117.31,847.29 L117.74,847.29 L118.16,847.29 L118.59,847.29 L119.02,847.29 L119.45,847.29 L119.88,847.29 L120.31,847.29 L120.74,847.29 L121.17,847.29 L121.60,847.29 L122.03,847.29 L122.46,847.29 L122.89,847.30 L123.32,847.30 L123.75,847.30 L124.18,847.30 L124.61,847.30 L125.03,847.30 L125.46,847.30 L125.89,847.30 L126.32,847.31 L126.75,847.31 L127.18,847.31 L127.61,847.31 L128.04,847.31 L128.47,847.31 L128.90,847.31 L129.33,847.32 L129.76,847.32 L130.19,847.32 L130.62,847.32 L131.05,847.32 L131.48,847.33 L131.90,847.33 L132.33,847.33 L132.76,847.33 L133.19,847.33 L133.62,847.34 L134.05,847.34 L134.48,847.34 L134.91,847.35 L135.34,847.35 L135.77,847.35 L136.20,847.35 L136.63,847.36 L137.06,847.36 L137.49,847.36 L137.92,847.37 L138.35,847.37 L138.77,847.38 L139.20,847.38 L139.63,847.38 L140.06,847.39 L140.49,847.39 L140.92,847.40 L141.35,847.40 L141.78,847.41 L142.21,847.41 L142.64,847.42 L143.07,847.42 L143.50,847.43 L143.93,847.43 L144.36,847.44 L144.79,847.45 L145.22,847.45 L145.64,847.46 L146.07,847.47 L146.50,847.48 L146.93,847.48 L147.36,847.49 L147.79,847.50 L148.22,847.51 L148.65,847.52 L149.08,847.53 L149.51,847.54 L149.94,847.55 L150.37,847.56 L150.80,847.57 L151.23,847.58 L151.66,847.59 L152.09,847.60 L152.52,847.62 L152.94,847.63 L153.37,847.64 L153.80,847.66 L154.23,847.67 L154.66,847.69 L155.09,847.70 L155.52,847.72 L155.95,847.73 L156.38,847.75 L156.81,847.77 L157.24,847.79 L157.67,847.81 L158.10,847.83 L158.53,847.85 L158.96,847.87 L159.39,847.89 L159.81,847.92 L160.24,847.94 L160.67,847.96 L161.10,847.99 L161.53,848.02 L161.96,848.04 L162.39,848.07 L162.82,848.10 L163.25,848.13 L163.68,848.17 L164.11,848.20 L164.54,848.23 L164.97,848.27 L165.40,848.31 L165.83,848.34 L166.26,848.38 L166.68,848.43 L167.11,848.47 L167.54,848.51 L167.97,848.56 L168.40,848.60 L168.83,848.65 L169.26,848.70 L169.69,848.76 L170.12,848.81 L170.55,848.87 L170.98,848.92 L171.41,848.98 L171.84,849.05 L172.27,849.11 L172.70,849.18 L173.13,849.25 L173.55,849.32 L173.98,849.39 L174.41,849.47 L174.84,849.54 L175.27,849.63 L175.70,849.71 L176.13,849.80 L176.56,849.89 L176.99,849.98 L177.42,850.07 L177.85,850.17 L178.28,850.27 L178.71,850.38 L179.14,850.49 L179.57,850.60 L180.00,850.72 L180.42,850.83 L180.85,850.96 L181.28,851.08 L181.71,851.22 L182.14,851.35 L182.57,851.49 L183.00,851.63 L183.43,851.78 L183.86,851.93 L184.29,852.09 L184.72,852.25 L185.15,852.42 L185.58,852.59 L186.01,852.76 L186.44,852.94 L186.87,853.13 L187.30,853.32 L187.72,853.52 L188.15,853.72 L188.58,853.92 L189.01,854.14 L189.44,854.36 L189.87,854.58 L190.30,854.81 L190.73,855.04 L191.16,855.29 L191.59,855.53 L192.02,855.79 L192.45,856.05 L192.88,856.31 L193.31,856.59 L193.74,856.87 L194.17,857.15 L194.59,857.44 L195.02,857.74 L195.45,858.05 L195.88,858.36 L196.31,858.68 L196.74,859.00 L197.17,859.34 L197.60,859.67 L198.03,860.02 L198.46,860.37 L198.89,860.73 L199.32,861.10 L199.75,861.47 L200.18,861.85 L200.61,862.24 L201.04,862.63 L201.46,863.03 L201.89,863.44 L202.32,863.85 L202.75,864.27 L203.18,864.70 L203.61,865.13 L204.04,865.57 L204.47,866.02 L204.90,866.47 L205.33,866.93 L205.76,867.39 L206.19,867.87 L206.62,868.34 L207.05,868.83 L207.48,869.32 L207.91,869.82 L208.33,870.32 L208.76,870.83 L209.19,871.34 L209.62,871.86 L210.05,872.39 L210.48,872.92 L210.91,873.45 L211.34,873.99 L211.77,874.54 L212.20,875.09 L212.63,875.65 L213.06,876.21 L213.49,876.78 L213.92,877.35 L214.35,877.92 L214.78,878.51 L215.20,879.09 L215.63,879.68 L216.06,880.27 L216.49,880.87 L216.92,881.47 L217.35,882.08 L217.78,882.69 L218.21,883.30 L218.64,883.92 L219.07,884.54 L219.50,885.16 L219.93,885.79 L220.36,886.42 L220.79,887.06 L221.22,887.70 L221.65,888.34 L222.08,888.98 L222.50,889.63 L222.93,890.28 L223.36,890.93 L223.79,891.58 L224.22,892.24 L224.65,892.90 L225.08,893.56 L225.51,894.23 L225.94,894.89 L226.37,895.56 L226.80,896.23 L227.23,896.91 L227.66,897.58 L228.09,898.26 L228.52,898.94 L228.95,899.62 L229.37,900.30 L229.80,900.99 L230.23,901.67 L230.66,902.36 L231.09,903.05 L231.52,903.74 L231.95,904.43 L232.38,905.13 L232.81,905.82 L233.24,906.52 L233.67,907.22 L234.10,907.92 L234.53,908.62 L234.96,909.32 L235.39,910.02 L235.82,910.73 L236.24,911.43 L236.67,912.14 L236.74,912.25 Z" fill="#80ff80"/>
<path d="M72.65,912.25 L72.65,874.29 L73.08,874.29 L73.51,874.29 L73.94,874.29 L74.37,874.29 L74.80,874.29 L75.23,874.29 L75.66,874.29 L76.09,874.29 L76.51,874.29 L76.94,874.29 L77.37,874.29 L77.80,874.29 L78.23,874.29 L78.66,874.29 L79.09,874.29 L79.52,874.29 L79.95,874.29 L80.38,874.29 L80.81,874.29 L81.24,874.29 L81.67,874.29 L82.10,874.29 L82.53,874.29 L82.96,874.29 L83.38,874.29 L83.81,874.29 L84.24,874.29 L84.67,874.29 L85.10,874.29 L85.53,874.29 L85.96,874.29 L86.39,874.29 L86.82,874.29 L87.25,874.29 L87.68,874.29 L88.11,874.29 L88.54,874.29 L88.97,874.29 L89.40,874.29 L89.83,874.29 L90.25,874.29 L90.68,874.29 L91.11,874.29 L91.54,874.29 L91.97,874.29 L92.40,874.29 L92.83,874.29 L93.26,874.29 L93.69,874.29 L94.12,874.29 L94.55,874.29 L94.98,874.29 L95.41,874.29 L95.84,874.29 L96.27,874.29 L96.70,874.29 L97.12,874.29 L97.55,874.29 L97.98,874.29 L98.41,874.29 L98.84,874.29 L99.27,874.29 L99.70,874.29 L100.13,874.29 L100.56,874.29 L100.99,874.29 L101.42,874.29 L101.85,874.29 L102.28,874.29 L102.71,874.29 L103.14,874.29 L103.57,874.29 L103.99,874.29 L104.42,874.29 L104.85,874.29 L105.28,874.29 L105.71,874.29 L106.14,874.29 L106.57,874.29 L107.00,874.29 L107.43,874.29 L107.86,874.29 L108.29,874.29 L108.72,874.29 L109.15,874.29 L109.58,874.29 L110.01,874.29 L110.44,874.29 L110.87,874.29 L111.29,874.29 L111.72,874.29 L112.15,874.29 L112.58,874.29 L113.01,874.29 L113.44,874.29 L113.87,874.29 L114.30,874.29 L114.73,874.29 L115.16,874.29 L115.59,874.29 L116.02,874.29 L116.45,874.29 L116.88,874.29 L117.31,874.29 L117.74,874.29 L118.16,874.29 L118.59,874.29 L119.02,874.29 L119.45,874.29 L119.88,874.29 L120.31,874.29 L120.74,874.29 L121.17,874.29 L121.60,874.29 L122.03,874.29 L122.46,874.29 L122.89,874.29 L123.32,874.29 L123.75,874.29 L124.18,874.29 L124.61,874.29 L125.03,874.29 L125.46,874.29 L125.89,874.29 L126.32,874.29 L126.75,874.29 L127.18,874.29 L127.61,874.29 L128.04,874.29 L128.47,874.29 L128.90,874.29 L129.33,874.29 L129.76,874.29 L130.19,874.29 L130.62,874.29 L131.05,874.29 L131.48,874.29 L131.90,874.29 L132.33,874.29 L132.76,874.29 L133.19,874.29 L133.62,874.29 L134.05,874.29 L134.48,874.29 L134.91,874.29 L135.34,874.29 L135.77,874.30 L136.20,874.30 L136.63,874.30 L137.06,874.30 L137.49,874.30 L137.92,874.30 L138.35,874.30 L138.77,874.30 L139.20,874.30 L139.63,874.30 L140.06,874.30 L140.49,874.30 L140.92,874.30 L141.35,874.30 L141.78,874.30 L142.21,874.31 L142.64,874.31 L143.07,874.31 L143.50,874.31 L143.93,874.31 L144.36,874.31 L144.79,874.31 L145.22,874.31 L145.64,874.31 L146.07,874.32 L146.50,874.32 L146.93,874.32 L147.36,874.32 L147.79,874.32 L148.22,874.32 L148.65,874.33 L149.08,874.33 L149.51,874.33 L149.94,874.33 L150.37,874.34 L150.80,874.34 L151.23,874.34 L151.66,874.35 L152.09,874.35 L152.52,874.35 L152.94,874.36 L153.37,874.36 L153.80,874.36 L154.23,874.37 L154.66,874.37 L155.09,874.38 L155.52,874.38 L155.95,874.39 L156.38,874.39 L156.81,874.40 L157.24,874.41 L157.67,874.41 L158.10,874.42 L158.53,874.43 L158.96,874.43 L159.39,874.44 L159.81,874.45 L160.24,874.46 L160.67,874.47 L161.10,874.48 L161.53,874.49 L161.96,874.50 L162.39,874.52 L162.82,874.53 L163.25,874.54 L163.68,874.56 L164.11,874.57 L164.54,874.59 L164.97,874.60 L165.40,874.62 L165.83,874.64 L166.26,874.66 L166.68,874.68 L167.11,874.70 L167.54,874.72 L167.97,874.75 L168.40,874.77 L168.83,874.80 L169.26,874.83 L169.69,874.86 L170.12,874.89 L170.55,874.92 L170.98,874.96 L171.41,875.00 L171.84,875.03 L172.27,875.08 L172.70,875.12 L173.13,875.16 L173.55,875.21 L173.98,875.26 L174.41,875.31 L174.84,875.37 L175.27,875.43 L175.70,875.49 L176.13,875.55 L176.56,875.62 L176.99,875.69 L177.42,875.77 L177.85,875.85 L178.28,875.93 L178.71,876.01 L179.14,876.10 L179.57,876.20 L180.00,876.30 L180.42,876.40 L180.85,876.51 L181.28,876.62 L181.71,876.74 L182.14,876.87 L182.57,877.00 L183.00,877.13 L183.43,877.27 L183.86,877.42 L184.29,877.58 L184.72,877.74 L185.15,877.90 L185.58,878.08 L186.01,878.26 L186.44,878.44 L186.87,878.64 L187.30,878.84 L187.72,879.05 L188.15,879.27 L188.58,879.49 L189.01,879.73 L189.44,879.97 L189.87,880.22 L190.30,880.47 L190.73,880.74 L191.16,881.01 L191.59,881.29 L192.02,881.58 L192.45,881.88 L192.88,882.19 L193.31,882.51 L193.74,882.83 L194.17,883.16 L194.59,883.50 L195.02,883.85 L195.45,884.21 L195.88,884.57 L196.31,884.95 L196.74,885.33 L197.17,885.72 L197.60,886.11 L198.03,886.52 L198.46,886.93 L198.89,887.35 L199.32,887.77 L199.75,888.21 L200.18,888.65 L200.61,889.09 L201.04,889.55 L201.46,890.01 L201.89,890.47 L202.32,890.94 L202.75,891.42 L203.18,891.90 L203.61,892.39 L204.04,892.88 L204.47,893.38 L204.90,893.89 L205.33,894.39 L205.76,894.91 L206.19,895.42 L206.62,895.95 L207.05,896.47 L207.48,897.00 L207.91,897.53 L208.33,898.07 L208.76,898.61 L209.19,899.15 L209.62,899.70 L210.05,900.25 L210.48,900.80 L210.91,901.36 L211.34,901.92 L211.77,902.48 L212.20,903.04 L212.63,903.60 L213.06,904.17 L213.49,904.74 L213.92,905.31 L214.35,905.88 L214.78,906.46 L215.20,907.04 L215.63,907.61 L216.06,908.19 L216.49,908.78 L216.92,909.36 L217.35,909.94 L217.78,910.53 L218.21,911.11 L218.64,911.70 L219.04,912.25 Z" fill="#ffd000"/>
<path d="M72.65,912.25 L72.65,895.40 L73.08,895.40 L73.51,895.40 L73.94,895.40 L74.37,895.40 L74.80,895.40 L75.23,895.40 L75.66,895.40 L76.09,895.40 L76.51,895.40 L76.94,895.40 L77.37,895.40 L77.80,895.40 L78.23,895.40 L78.66,895.40 L79.09,895.40 L79.52,895.40 L79.95,895.40 L80.38,895.40 L80.81,895.40 L81.24,895.40 L81.67,895.40 L82.10,895.40 L82.53,895.40 L82.96,895.40 L83.38,895.40 L83.81,895.40 L84.24,895.40 L84.67,895.40 L85.10,895.40 L85.53,895.40 L85.96,895.40 L86.39,895.40 L86.82,895.40 L87.25,895.40 L87.68,895.40 L88.11,895.40 L88.54,895.40 L88.97,895.40 L89.40,895.40 L89.83,895.40 L90.25,895.40 L90.68,895.40 L91.11,895.40 L91.54,895.40 L91.97,895.40 L92.40,895.40 L92.83,895.40 L93.26,895.40 L93.69,895.40 L94.12,895.40 L94.55,895.40 L94.98,895.40 L95.41,895.40 L95.84,895.40 L96.27,895.40 L96.70,895.40 L97.12,895.40 L97.55,895.40 L97.98,895.40 L98.41,895.40 L98.84,895.40 L99.27,895.40 L99.70,895.40 L100.13,895.40 L100.56,895.40 L100.99,895.40 L101.42,895.40 L101.85,895.40 L102.28,895.40 L102.71,895.40 L103.14,895.40 L103.57,895.40 L103.99,895.40 L104.42,895.40 L104.85,895.40 L105.28,895.40 L105.71,895.40 L106.14,895.40 L106.57,895.40 L107.00,895.40 L107.43,895.40 L107.86,895.40 L108.29,895.40 L108.72,895.40 L109.15,895.40 L109.58,895.40 L110.01,895.40 L110.44,895.40 L110.87,895.40 L111.29,895.40 L111.72,895.40 L112.15,895.40 L112.58,895.40 L113.01,895.40 L113.44,895.40 L113.87,895.40 L114.30,895.40 L114.73,895.40 L115.16,895.40 L115.59,895.40 L116.02,895.40 L116.45,895.40 L116.88,895.40 L117.31,895.40 L117.74,895.40 L118.16,895.40 L118.59,895.40 L119.02,895.40 L119.45,895.40 L119.88,895.40 L120.31,895.40 L120.74,895.40 L121.17,895.40 L121.60,895.40 L122.03,895.40 L122.46,895.40 L122.89,895.40 L123.32,895.40 L123.75,895.40 L124.18,895.40 L124.61,895.40 L125.03,895.40 L125.46,895.40 L125.89,895.40 L126.32,895.40 L126.75,895.40 L127.18,895.40 L127.61,895.40 L128.04,895.40 L128.47,895.40 L128.90,895.40 L129.33,895.40 L129.76,895.40 L130.19,895.40 L130.62,895.40 L131.05,895.40 L131.48,895.40 L131.90,895.40 L132.33,895.40 L132.76,895.40 L133.19,895.40 L133.62,895.40 L134.05,895.40 L134.48,895.40 L134.91,895.40 L135.34,895.40 L135.77,895.40 L136.20,895.40 L136.63,895.40 L137.06,895.40 L137.49,895.40 L137.92,895.40 L138.35,895.40 L138.77,895.40 L139.20,895.40 L139.63,895.40 L140.06,895.40 L140.49,895.40 L140.92,895.40 L141.35,895.40 L141.78,895.40 L142.21,895.40 L142.64,895.40 L143.07,895.40 L143.50,895.40 L143.93,895.40 L144.36,895.40 L144.79,895.40 L145.22,895.40 L145.64,895.40 L146.07,895.40 L146.50,895.40 L146.93,895.40 L147.36,895.40 L147.79,895.40 L148.22,895.40 L148.65,895.40 L149.08,895.40 L149.51,895.40 L149.94,895.40 L150.37,895.40 L150.80,895.40 L151.23,895.40 L151.66,895.40 L152.09,895.40 L152.52,895.40 L152.94,895.40 L153.37,895.40 L153.80,895.40 L154.23,895.40 L154.66,895.40 L155.09,895.40 L155.52,895.40 L155.95,895.40 L156.38,895.40 L156.81,895.40 L157.24,895.40 L157.67,895.40 L158.10,895.40 L158.53,895.41 L158.96,895.41 L159.39,895.41 L159.81,895.41 L160.24,895.41 L160.67,895.41 L161.10,895.41 L161.53,895.41 L161.96,895.41 L162.39,895.41 L162.82,895.41 L163.25,895.42 L163.68,895.42 L164.11,895.42 L164.54,895.42 L164.97,895.42 L165.40,895.42 L165.83,895.43 L166.26,895.43 L166.68,895.43 L167.11,895.43 L167.54,895.44 L167.97,895.44 L168.40,895.44 L168.83,895.45 L169.26,895.45 L169.69,895.46 L170.12,895.46 L170.55,895.47 L170.98,895.47 L171.41,895.48 L171.84,895.49 L172.27,895.49 L172.70,895.50 L173.13,895.51 L173.55,895.52 L173.98,895.53 L174.41,895.54 L174.84,895.55 L175.27,895.57 L175.70,895.58 L176.13,895.60 L176.56,895.61 L176.99,895.63 L177.42,895.65 L177.85,895.67 L178.28,895.70 L178.71,895.72 L179.14,895.75 L179.57,895.78 L180.00,895.81 L180.42,895.84 L180.85,895.88 L181.28,895.92 L181.71,895.97 L182.14,896.01 L182.57,896.06 L183.00,896.12 L183.43,896.18 L183.86,896.24 L184.29,896.31 L184.72,896.38 L185.15,896.46 L185.58,896.54 L186.01,896.64 L186.44,896.73 L186.87,896.84 L187.30,896.95 L187.72,897.07 L188.15,897.20 L188.58,897.33 L189.01,897.48 L189.44,897.63 L189.87,897.79 L190.30,897.97 L190.73,898.15 L191.16,898.34 L191.59,898.55 L192.02,898.76 L192.45,898.99 L192.88,899.23 L193.31,899.48 L193.74,899.74 L194.17,900.02 L194.59,900.31 L195.02,900.60 L195.45,900.91 L195.88,901.24 L196.31,901.57 L196.74,901.92 L197.17,902.28 L197.60,902.64 L198.03,903.02 L198.46,903.42 L198.89,903.82 L199.32,904.23 L199.75,904.65 L200.18,905.08 L200.61,905.52 L201.04,905.97 L201.46,906.42 L201.89,906.89 L202.32,907.36 L202.75,907.84 L203.18,908.33 L203.61,908.82 L204.04,909.32 L204.47,909.82 L204.90,910.33 L205.33,910.84 L205.76,911.36 L206.19,911.89 L206.48,912.25 Z" fill="#ff2800"/>
<path d="M72.65,360H436.5" stroke="#6060c8" stroke-opacity="0.16" stroke-width="1.3"/>
<path d="M195.00,912.25V903.65M195.00,62.90V71.80M315.85,912.25V903.65M315.85,62.90V71.80M72.65,700.60H81.65M436.50,700.60H427.50M72.65,487.60H81.65M436.50,487.60H427.50M72.65,274.50H81.65M436.50,274.50H427.50" stroke="#262626" stroke-width="1.5" fill="none"/>
<rect x="72.65" y="62.9" width="363.85" height="849.35" fill="none" stroke="#0a0a0a" stroke-width="1.5"/>
<path d="M119.30,913.9H194.50" stroke="#b84848" stroke-opacity="0.62" stroke-width="1.7" stroke-dasharray="2.4 3.62"/>
<rect x="465.05" y="61.4" width="33.90" height="850.90" fill="url(#jet)"/>
<path d="M498.95,202.97H490.35M498.95,344.56H490.35M498.95,486.00H490.35M498.95,629.18H490.35M498.95,770.65H490.35" stroke="#262626" stroke-width="1.5" fill="none"/>
<rect x="465.05" y="61.4" width="33.90" height="850.90" fill="none" stroke="#0a0a0a" stroke-width="1.5"/>
<text x="0" y="0" transform="translate(34.28,79.24) scale(1,1.0300)" class="tl" style="font-family:'Liberation Serif', serif;font-size:45px">2</text>
<text x="0" y="0" transform="translate(9.72,291.97) scale(0.730,1.0300) translate(-11.88,0)" class="tl" style="font-family:'Liberation Serif', serif;font-size:45px">1</text><text x="0" y="0" transform="translate(22.00,291.97) scale(1,1.0300)" class="tl" style="font-family:'Liberation Serif', serif;font-size:45px">.</text><text x="0" y="0" transform="translate(44.93,291.97) scale(0.890,1.0300) translate(-11.68,0)" class="tl" style="font-family:'Liberation Serif', serif;font-size:45px">5</text>
<text x="0" y="0" transform="translate(45.02,503.70) scale(0.730,1.0300) translate(-11.88,0)" class="tl" style="font-family:'Liberation Serif', serif;font-size:45px">1</text>
<text x="0" y="0" transform="translate(10.75,716.53) scale(0.940,1.0300) translate(-11.25,0)" class="tl" style="font-family:'Liberation Serif', serif;font-size:45px">0</text><text x="0" y="0" transform="translate(22.00,716.53) scale(1,1.0300)" class="tl" style="font-family:'Liberation Serif', serif;font-size:45px">.</text><text x="0" y="0" transform="translate(44.93,716.53) scale(0.890,1.0300) translate(-11.68,0)" class="tl" style="font-family:'Liberation Serif', serif;font-size:45px">5</text>
<text x="0" y="0" transform="translate(45.74,929.84) scale(0.940,1.0300) translate(-11.25,0)" class="tl" style="font-family:'Liberation Serif', serif;font-size:45px">0</text>
<text x="0" y="0" transform="translate(73.80,971.59) scale(0.940,1.0300) translate(-11.25,0)" class="tl" style="font-family:'Liberation Serif', serif;font-size:45px">0</text>
<text x="0" y="0" transform="translate(194.30,971.70) scale(0.730,1.0300) translate(-11.88,0)" class="tl" style="font-family:'Liberation Serif', serif;font-size:45px">1</text>
<text x="0" y="0" transform="translate(305.50,971.74) scale(1,1.0300)" class="tl" style="font-family:'Liberation Serif', serif;font-size:45px">2</text>
<text x="0" y="0" transform="translate(425.80,971.52) scale(1,1.0300)" class="tl" style="font-family:'Liberation Serif', serif;font-size:45px">3</text>
<text x="0" y="0" transform="translate(523.60,74.57) scale(0.730,1.0450) translate(-10.69,0)" class="tl" style="font-family:'Liberation Serif', serif;font-size:40.5px">1</text><text x="0" y="0" transform="translate(534.66,74.57) scale(1,1.0450)" class="tl" style="font-family:'Liberation Serif', serif;font-size:40.5px">.</text><text x="0" y="0" transform="translate(554.91,74.57) scale(0.940,1.0450) translate(-10.12,0)" class="tl" style="font-family:'Liberation Serif', serif;font-size:40.5px">0</text><text x="0" y="0" transform="translate(565.04,74.57) scale(1,1.0450)" class="tl" style="font-family:'Liberation Serif', serif;font-size:40.5px">3</text>
<text x="0" y="0" transform="translate(523.60,216.12) scale(0.730,1.0450) translate(-10.69,0)" class="tl" style="font-family:'Liberation Serif', serif;font-size:40.5px">1</text><text x="0" y="0" transform="translate(534.66,216.12) scale(1,1.0450)" class="tl" style="font-family:'Liberation Serif', serif;font-size:40.5px">.</text><text x="0" y="0" transform="translate(554.91,216.12) scale(0.940,1.0450) translate(-10.12,0)" class="tl" style="font-family:'Liberation Serif', serif;font-size:40.5px">0</text><text x="0" y="0" transform="translate(565.04,216.12) scale(1,1.0450)" class="tl" style="font-family:'Liberation Serif', serif;font-size:40.5px">2</text><text x="0" y="0" transform="translate(595.80,216.12) scale(0.890,1.0450) translate(-10.51,0)" class="tl" style="font-family:'Liberation Serif', serif;font-size:40.5px">5</text>
<text x="0" y="0" transform="translate(523.60,358.67) scale(0.730,1.0450) translate(-10.69,0)" class="tl" style="font-family:'Liberation Serif', serif;font-size:40.5px">1</text><text x="0" y="0" transform="translate(534.66,358.67) scale(1,1.0450)" class="tl" style="font-family:'Liberation Serif', serif;font-size:40.5px">.</text><text x="0" y="0" transform="translate(554.91,358.67) scale(0.940,1.0450) translate(-10.12,0)" class="tl" style="font-family:'Liberation Serif', serif;font-size:40.5px">0</text><text x="0" y="0" transform="translate(565.04,358.67) scale(1,1.0450)" class="tl" style="font-family:'Liberation Serif', serif;font-size:40.5px">2</text>
<text x="0" y="0" transform="translate(523.60,500.82) scale(0.730,1.0450) translate(-10.69,0)" class="tl" style="font-family:'Liberation Serif', serif;font-size:40.5px">1</text><text x="0" y="0" transform="translate(534.66,500.82) scale(1,1.0450)" class="tl" style="font-family:'Liberation Serif', serif;font-size:40.5px">.</text><text x="0" y="0" transform="translate(554.91,500.82) scale(0.940,1.0450) translate(-10.12,0)" class="tl" style="font-family:'Liberation Serif', serif;font-size:40.5px">0</text><text x="0" y="0" transform="translate(574.23,500.82) scale(0.730,1.0450) translate(-10.69,0)" class="tl" style="font-family:'Liberation Serif', serif;font-size:40.5px">1</text><text x="0" y="0" transform="translate(595.80,500.82) scale(0.890,1.0450) translate(-10.51,0)" class="tl" style="font-family:'Liberation Serif', serif;font-size:40.5px">5</text>
<text x="0" y="0" transform="translate(523.60,643.27) scale(0.730,1.0450) translate(-10.69,0)" class="tl" style="font-family:'Liberation Serif', serif;font-size:40.5px">1</text><text x="0" y="0" transform="translate(534.66,643.27) scale(1,1.0450)" class="tl" style="font-family:'Liberation Serif', serif;font-size:40.5px">.</text><text x="0" y="0" transform="translate(554.91,643.27) scale(0.940,1.0450) translate(-10.12,0)" class="tl" style="font-family:'Liberation Serif', serif;font-size:40.5px">0</text><text x="0" y="0" transform="translate(574.23,643.27) scale(0.730,1.0450) translate(-10.69,0)" class="tl" style="font-family:'Liberation Serif', serif;font-size:40.5px">1</text>
<text x="0" y="0" transform="translate(523.60,784.77) scale(0.730,1.0450) translate(-10.69,0)" class="tl" style="font-family:'Liberation Serif', serif;font-size:40.5px">1</text><text x="0" y="0" transform="translate(534.66,784.77) scale(1,1.0450)" class="tl" style="font-family:'Liberation Serif', serif;font-size:40.5px">.</text><text x="0" y="0" transform="translate(554.91,784.77) scale(0.940,1.0450) translate(-10.12,0)" class="tl" style="font-family:'Liberation Serif', serif;font-size:40.5px">0</text><text x="0" y="0" transform="translate(575.16,784.77) scale(0.940,1.0450) translate(-10.12,0)" class="tl" style="font-family:'Liberation Serif', serif;font-size:40.5px">0</text><text x="0" y="0" transform="translate(595.80,784.77) scale(0.890,1.0450) translate(-10.51,0)" class="tl" style="font-family:'Liberation Serif', serif;font-size:40.5px">5</text>
<text x="0" y="0" transform="translate(523.60,926.97) scale(0.730,1.0450) translate(-10.69,0)" class="tl" style="font-family:'Liberation Serif', serif;font-size:40.5px">1</text>
<rect x="708.30" y="60.30" width="363.60" height="1.8" fill="#eeeefb"/>
<rect x="706.8" y="62.9" width="365.10" height="849.35" fill="#000080"/>
<path d="M706.80,912.25 L706.80,742.99 L707.23,742.99 L707.66,743.00 L708.09,743.00 L708.52,743.00 L708.95,743.00 L709.38,743.00 L709.81,743.01 L710.24,743.01 L710.66,743.01 L711.09,743.01 L711.52,743.02 L711.95,743.02 L712.38,743.02 L712.81,743.02 L713.24,743.03 L713.67,743.03 L714.10,743.03 L714.53,743.03 L714.96,743.04 L715.39,743.04 L715.82,743.04 L716.25,743.05 L716.68,743.05 L717.11,743.05 L717.53,743.06 L717.96,743.06 L718.39,743.06 L718.82,743.07 L719.25,743.07 L719.68,743.07 L720.11,743.08 L720.54,743.08 L720.97,743.08 L721.40,743.09 L721.83,743.09 L722.26,743.09 L722.69,743.10 L723.12,743.10 L723.55,743.11 L723.98,743.11 L724.40,743.12 L724.83,743.12 L725.26,743.12 L725.69,743.13 L726.12,743.13 L726.55,743.14 L726.98,743.14 L727.41,743.15 L727.84,743.15 L728.27,743.16 L728.70,743.16 L729.13,743.17 L729.56,743.17 L729.99,743.18 L730.42,743.18 L730.85,743.19 L731.27,743.20 L731.70,743.20 L732.13,743.21 L732.56,743.21 L732.99,743.22 L733.42,743.23 L733.85,743.23 L734.28,743.24 L734.71,743.25 L735.14,743.25 L735.57,743.26 L736.00,743.27 L736.43,743.28 L736.86,743.28 L737.29,743.29 L737.72,743.30 L738.14,743.31 L738.57,743.31 L739.00,743.32 L739.43,743.33 L739.86,743.34 L740.29,743.35 L740.72,743.36 L741.15,743.36 L741.58,743.37 L742.01,743.38 L742.44,743.39 L742.87,743.40 L743.30,743.41 L743.73,743.42 L744.16,743.43 L744.59,743.44 L745.02,743.45 L745.44,743.46 L745.87,743.47 L746.30,743.49 L746.73,743.50 L747.16,743.51 L747.59,743.52 L748.02,743.53 L748.45,743.55 L748.88,743.56 L749.31,743.57 L749.74,743.58 L750.17,743.60 L750.60,743.61 L751.03,743.62 L751.46,743.64 L751.89,743.65 L752.31,743.67 L752.74,743.68 L753.17,743.70 L753.60,743.71 L754.03,743.73 L754.46,743.74 L754.89,743.76 L755.32,743.78 L755.75,743.79 L756.18,743.81 L756.61,743.83 L757.04,743.85 L757.47,743.86 L757.90,743.88 L758.33,743.90 L758.76,743.92 L759.18,743.94 L759.61,743.96 L760.04,743.98 L760.47,744.00 L760.90,744.02 L761.33,744.04 L761.76,744.06 L762.19,744.09 L762.62,744.11 L763.05,744.13 L763.48,744.16 L763.91,744.18 L764.34,744.20 L764.77,744.23 L765.20,744.25 L765.63,744.28 L766.05,744.31 L766.48,744.33 L766.91,744.36 L767.34,744.39 L767.77,744.41 L768.20,744.44 L768.63,744.47 L769.06,744.50 L769.49,744.53 L769.92,744.56 L770.35,744.59 L770.78,744.63 L771.21,744.66 L771.64,744.69 L772.07,744.73 L772.50,744.76 L772.92,744.80 L773.35,744.83 L773.78,744.87 L774.21,744.90 L774.64,744.94 L775.07,744.98 L775.50,745.02 L775.93,745.06 L776.36,745.10 L776.79,745.14 L777.22,745.18 L777.65,745.22 L778.08,745.27 L778.51,745.31 L778.94,745.36 L779.37,745.40 L779.79,745.45 L780.22,745.50 L780.65,745.55 L781.08,745.59 L781.51,745.64 L781.94,745.70 L782.37,745.75 L782.80,745.80 L783.23,745.85 L783.66,745.91 L784.09,745.96 L784.52,746.02 L784.95,746.08 L785.38,746.14 L785.81,746.20 L786.24,746.26 L786.67,746.32 L787.09,746.38 L787.52,746.45 L787.95,746.51 L788.38,746.58 L788.81,746.64 L789.24,746.71 L789.67,746.78 L790.10,746.85 L790.53,746.93 L790.96,747.00 L791.39,747.07 L791.82,747.15 L792.25,747.23 L792.68,747.31 L793.11,747.39 L793.54,747.47 L793.96,747.55 L794.39,747.63 L794.82,747.72 L795.25,747.81 L795.68,747.89 L796.11,747.98 L796.54,748.08 L796.97,748.17 L797.40,748.26 L797.83,748.36 L798.26,748.46 L798.69,748.56 L799.12,748.66 L799.55,748.76 L799.98,748.87 L800.41,748.97 L800.83,749.08 L801.26,749.19 L801.69,749.30 L802.12,749.41 L802.55,749.53 L802.98,749.64 L803.41,749.76 L803.84,749.88 L804.27,750.01 L804.70,750.13 L805.13,750.26 L805.56,750.39 L805.99,750.52 L806.42,750.65 L806.85,750.78 L807.28,750.92 L807.70,751.06 L808.13,751.20 L808.56,751.35 L808.99,751.49 L809.42,751.64 L809.85,751.79 L810.28,751.94 L810.71,752.10 L811.14,752.25 L811.57,752.41 L812.00,752.57 L812.43,752.74 L812.86,752.91 L813.29,753.08 L813.72,753.25 L814.15,753.42 L814.57,753.60 L815.00,753.78 L815.43,753.96 L815.86,754.14 L816.29,754.33 L816.72,754.52 L817.15,754.71 L817.58,754.91 L818.01,755.11 L818.44,755.31 L818.87,755.51 L819.30,755.72 L819.73,755.93 L820.16,756.14 L820.59,756.36 L821.02,756.58 L821.45,756.80 L821.87,757.02 L822.30,757.25 L822.73,757.48 L823.16,757.71 L823.59,757.95 L824.02,758.19 L824.45,758.43 L824.88,758.68 L825.31,758.93 L825.74,759.18 L826.17,759.44 L826.60,759.70 L827.03,759.96 L827.46,760.22 L827.89,760.49 L828.32,760.76 L828.74,761.04 L829.17,761.32 L829.60,761.60 L830.03,761.89 L830.46,762.17 L830.89,762.47 L831.32,762.76 L831.75,763.06 L832.18,763.36 L832.61,763.67 L833.04,763.98 L833.47,764.29 L833.90,764.61 L834.33,764.93 L834.76,765.25 L835.19,765.58 L835.61,765.91 L836.04,766.25 L836.47,766.58 L836.90,766.93 L837.33,767.27 L837.76,767.62 L838.19,767.97 L838.62,768.33 L839.05,768.69 L839.48,769.05 L839.91,769.42 L840.34,769.79 L840.77,770.16 L841.20,770.54 L841.63,770.92 L842.06,771.31 L842.48,771.69 L842.91,772.09 L843.34,772.48 L843.77,772.88 L844.20,773.28 L844.63,773.69 L845.06,774.10 L845.49,774.52 L845.92,774.93 L846.35,775.35 L846.78,775.78 L847.21,776.21 L847.64,776.64 L848.07,777.08 L848.50,777.51 L848.93,777.96 L849.35,778.40 L849.78,778.85 L850.21,779.31 L850.64,779.76 L851.07,780.22 L851.50,780.69 L851.93,781.16 L852.36,781.63 L852.79,782.10 L853.22,782.58 L853.65,783.06 L854.08,783.54 L854.51,784.03 L854.94,784.52 L855.37,785.02 L855.80,785.51 L856.23,786.02 L856.65,786.52 L857.08,787.03 L857.51,787.54 L857.94,788.05 L858.37,788.57 L858.80,789.09 L859.23,789.62 L859.66,790.14 L860.09,790.67 L860.52,791.21 L860.95,791.74 L861.38,792.28 L861.81,792.82 L862.24,793.37 L862.67,793.92 L863.10,794.47 L863.52,795.02 L863.95,795.58 L864.38,796.14 L864.81,796.70 L865.24,797.27 L865.67,797.84 L866.10,798.41 L866.53,798.98 L866.96,799.56 L867.39,800.14 L867.82,800.72 L868.25,801.31 L868.68,801.89 L869.11,802.48 L869.54,803.08 L869.97,803.67 L870.39,804.27 L870.82,804.87 L871.25,805.47 L871.68,806.08 L872.11,806.69 L872.54,807.30 L872.97,807.91 L873.40,808.52 L873.83,809.14 L874.26,809.76 L874.69,810.38 L875.12,811.00 L875.55,811.63 L875.98,812.26 L876.41,812.89 L876.84,813.52 L877.26,814.16 L877.69,814.79 L878.12,815.43 L878.55,816.07 L878.98,816.72 L879.41,817.36 L879.84,818.01 L880.27,818.66 L880.70,819.31 L881.13,819.96 L881.56,820.61 L881.99,821.27 L882.42,821.93 L882.85,822.59 L883.28,823.25 L883.71,823.91 L884.13,824.58 L884.56,825.24 L884.99,825.91 L885.42,826.58 L885.85,827.25 L886.28,827.93 L886.71,828.60 L887.14,829.28 L887.57,829.95 L888.00,830.63 L888.43,831.31 L888.86,832.00 L889.29,832.68 L889.72,833.37 L890.15,834.05 L890.58,834.74 L891.01,835.43 L891.43,836.12 L891.86,836.81 L892.29,837.51 L892.72,838.20 L893.15,838.90 L893.58,839.59 L894.01,840.29 L894.44,840.99 L894.87,841.69 L895.30,842.39 L895.73,843.10 L896.16,843.80 L896.59,844.50 L897.02,845.21 L897.45,845.92 L897.88,846.63 L898.30,847.34 L898.73,848.05 L899.16,848.76 L899.59,849.47 L900.02,850.18 L900.45,850.90 L900.88,851.61 L901.31,852.33 L901.74,853.05 L902.17,853.76 L902.60,854.48 L903.03,855.20 L903.46,855.92 L903.89,856.65 L904.32,857.37 L904.75,858.09 L905.17,858.82 L905.60,859.54 L906.03,860.27 L906.46,860.99 L906.89,861.72 L907.32,862.45 L907.75,863.18 L908.18,863.90 L908.61,864.63 L909.04,865.37 L909.47,866.10 L909.90,866.83 L910.33,867.56 L910.76,868.29 L911.19,869.03 L911.62,869.76 L912.04,870.50 L912.47,871.23 L912.90,871.97 L913.33,872.71 L913.76,873.45 L914.19,874.18 L914.62,874.92 L915.05,875.66 L915.48,876.40 L915.91,877.14 L916.34,877.88 L916.77,878.62 L917.20,879.36 L917.63,880.11 L918.06,880.85 L918.49,881.59 L918.91,882.34 L919.34,883.08 L919.77,883.82 L920.20,884.57 L920.63,885.32 L921.06,886.06 L921.49,886.81 L921.92,887.55 L922.35,888.30 L922.78,889.05 L923.21,889.80 L923.64,890.54 L924.07,891.29 L924.50,892.04 L924.93,892.79 L925.36,893.54 L925.78,894.29 L926.21,895.04 L926.64,895.79 L927.07,896.54 L927.50,897.29 L927.93,898.05 L928.36,898.80 L928.79,899.55 L929.22,900.30 L929.65,901.06 L930.08,901.81 L930.51,902.56 L930.94,903.32 L931.37,904.07 L931.80,904.82 L932.23,905.58 L932.66,906.33 L933.08,907.09 L933.51,907.84 L933.94,908.60 L934.37,909.36 L934.80,910.11 L935.23,910.87 L935.66,911.62 L936.02,912.25 Z" fill="#002cff"/>
<path d="M706.80,912.25 L706.80,808.61 L707.23,808.61 L707.66,808.61 L708.09,808.61 L708.52,808.61 L708.95,808.61 L709.38,808.61 L709.81,808.61 L710.24,808.61 L710.66,808.61 L711.09,808.62 L711.52,808.62 L711.95,808.62 L712.38,808.62 L712.81,808.62 L713.24,808.62 L713.67,808.62 L714.10,808.62 L714.53,808.62 L714.96,808.62 L715.39,808.62 L715.82,808.62 L716.25,808.62 L716.68,808.62 L717.11,808.62 L717.53,808.62 L717.96,808.62 L718.39,808.63 L718.82,808.63 L719.25,808.63 L719.68,808.63 L720.11,808.63 L720.54,808.63 L720.97,808.63 L721.40,808.63 L721.83,808.63 L722.26,808.63 L722.69,808.63 L723.12,808.63 L723.55,808.63 L723.98,808.64 L724.40,808.64 L724.83,808.64 L725.26,808.64 L725.69,808.64 L726.12,808.64 L726.55,808.64 L726.98,808.64 L727.41,808.64 L727.84,808.65 L728.27,808.65 L728.70,808.65 L729.13,808.65 L729.56,808.65 L729.99,808.65 L730.42,808.65 L730.85,808.66 L731.27,808.66 L731.70,808.66 L732.13,808.66 L732.56,808.66 L732.99,808.66 L733.42,808.66 L733.85,808.67 L734.28,808.67 L734.71,808.67 L735.14,808.67 L735.57,808.67 L736.00,808.68 L736.43,808.68 L736.86,808.68 L737.29,808.68 L737.72,808.68 L738.14,808.69 L738.57,808.69 L739.00,808.69 L739.43,808.69 L739.86,808.70 L740.29,808.70 L740.72,808.70 L741.15,808.70 L741.58,808.71 L742.01,808.71 L742.44,808.71 L742.87,808.71 L743.30,808.72 L743.73,808.72 L744.16,808.72 L744.59,808.73 L745.02,808.73 L745.44,808.73 L745.87,808.74 L746.30,808.74 L746.73,808.74 L747.16,808.75 L747.59,808.75 L748.02,808.76 L748.45,808.76 L748.88,808.76 L749.31,808.77 L749.74,808.77 L750.17,808.78 L750.60,808.78 L751.03,808.79 L751.46,808.79 L751.89,808.80 L752.31,808.80 L752.74,808.81 L753.17,808.81 L753.60,808.82 L754.03,808.82 L754.46,808.83 L754.89,808.83 L755.32,808.84 L755.75,808.85 L756.18,808.85 L756.61,808.86 L757.04,808.86 L757.47,808.87 L757.90,808.88 L758.33,808.89 L758.76,808.89 L759.18,808.90 L759.61,808.91 L760.04,808.92 L760.47,808.92 L760.90,808.93 L761.33,808.94 L761.76,808.95 L762.19,808.96 L762.62,808.97 L763.05,808.98 L763.48,808.99 L763.91,809.00 L764.34,809.01 L764.77,809.02 L765.20,809.03 L765.63,809.04 L766.05,809.05 L766.48,809.06 L766.91,809.07 L767.34,809.08 L767.77,809.09 L768.20,809.11 L768.63,809.12 L769.06,809.13 L769.49,809.15 L769.92,809.16 L770.35,809.17 L770.78,809.19 L771.21,809.20 L771.64,809.22 L772.07,809.23 L772.50,809.25 L772.92,809.27 L773.35,809.28 L773.78,809.30 L774.21,809.32 L774.64,809.34 L775.07,809.35 L775.50,809.37 L775.93,809.39 L776.36,809.41 L776.79,809.43 L777.22,809.45 L777.65,809.48 L778.08,809.50 L778.51,809.52 L778.94,809.54 L779.37,809.57 L779.79,809.59 L780.22,809.62 L780.65,809.64 L781.08,809.67 L781.51,809.69 L781.94,809.72 L782.37,809.75 L782.80,809.78 L783.23,809.81 L783.66,809.84 L784.09,809.87 L784.52,809.90 L784.95,809.93 L785.38,809.96 L785.81,810.00 L786.24,810.03 L786.67,810.07 L787.09,810.10 L787.52,810.14 L787.95,810.18 L788.38,810.22 L788.81,810.26 L789.24,810.30 L789.67,810.34 L790.10,810.38 L790.53,810.43 L790.96,810.47 L791.39,810.52 L791.82,810.56 L792.25,810.61 L792.68,810.66 L793.11,810.71 L793.54,810.76 L793.96,810.82 L794.39,810.87 L794.82,810.93 L795.25,810.98 L795.68,811.04 L796.11,811.10 L796.54,811.16 L796.97,811.22 L797.40,811.29 L797.83,811.35 L798.26,811.42 L798.69,811.48 L799.12,811.55 L799.55,811.63 L799.98,811.70 L800.41,811.77 L800.83,811.85 L801.26,811.93 L801.69,812.01 L802.12,812.09 L802.55,812.17 L802.98,812.26 L803.41,812.34 L803.84,812.43 L804.27,812.52 L804.70,812.62 L805.13,812.71 L805.56,812.81 L805.99,812.91 L806.42,813.01 L806.85,813.11 L807.28,813.22 L807.70,813.33 L808.13,813.44 L808.56,813.55 L808.99,813.67 L809.42,813.79 L809.85,813.91 L810.28,814.03 L810.71,814.16 L811.14,814.28 L811.57,814.42 L812.00,814.55 L812.43,814.69 L812.86,814.83 L813.29,814.97 L813.72,815.11 L814.15,815.26 L814.57,815.41 L815.00,815.57 L815.43,815.72 L815.86,815.88 L816.29,816.05 L816.72,816.22 L817.15,816.39 L817.58,816.56 L818.01,816.74 L818.44,816.92 L818.87,817.10 L819.30,817.29 L819.73,817.48 L820.16,817.68 L820.59,817.87 L821.02,818.08 L821.45,818.28 L821.87,818.49 L822.30,818.71 L822.73,818.92 L823.16,819.15 L823.59,819.37 L824.02,819.60 L824.45,819.83 L824.88,820.07 L825.31,820.31 L825.74,820.56 L826.17,820.81 L826.60,821.07 L827.03,821.32 L827.46,821.59 L827.89,821.86 L828.32,822.13 L828.74,822.40 L829.17,822.69 L829.60,822.97 L830.03,823.26 L830.46,823.56 L830.89,823.86 L831.32,824.16 L831.75,824.47 L832.18,824.78 L832.61,825.10 L833.04,825.42 L833.47,825.75 L833.90,826.08 L834.33,826.42 L834.76,826.76 L835.19,827.11 L835.61,827.46 L836.04,827.82 L836.47,828.18 L836.90,828.54 L837.33,828.92 L837.76,829.29 L838.19,829.67 L838.62,830.06 L839.05,830.45 L839.48,830.84 L839.91,831.25 L840.34,831.65 L840.77,832.06 L841.20,832.48 L841.63,832.90 L842.06,833.32 L842.48,833.75 L842.91,834.19 L843.34,834.63 L843.77,835.07 L844.20,835.52 L844.63,835.97 L845.06,836.43 L845.49,836.90 L845.92,837.37 L846.35,837.84 L846.78,838.32 L847.21,838.80 L847.64,839.29 L848.07,839.78 L848.50,840.27 L848.93,840.77 L849.35,841.28 L849.78,841.79 L850.21,842.30 L850.64,842.82 L851.07,843.35 L851.50,843.87 L851.93,844.41 L852.36,844.94 L852.79,845.48 L853.22,846.03 L853.65,846.58 L854.08,847.13 L854.51,847.69 L854.94,848.25 L855.37,848.81 L855.80,849.38 L856.23,849.95 L856.65,850.53 L857.08,851.11 L857.51,851.70 L857.94,852.28 L858.37,852.88 L858.80,853.47 L859.23,854.07 L859.66,854.67 L860.09,855.28 L860.52,855.89 L860.95,856.50 L861.38,857.12 L861.81,857.74 L862.24,858.36 L862.67,858.99 L863.10,859.62 L863.52,860.25 L863.95,860.89 L864.38,861.52 L864.81,862.17 L865.24,862.81 L865.67,863.46 L866.10,864.11 L866.53,864.76 L866.96,865.42 L867.39,866.08 L867.82,866.74 L868.25,867.40 L868.68,868.07 L869.11,868.74 L869.54,869.41 L869.97,870.08 L870.39,870.76 L870.82,871.44 L871.25,872.12 L871.68,872.80 L872.11,873.49 L872.54,874.17 L872.97,874.86 L873.40,875.56 L873.83,876.25 L874.26,876.95 L874.69,877.65 L875.12,878.35 L875.55,879.05 L875.98,879.75 L876.41,880.46 L876.84,881.16 L877.26,881.87 L877.69,882.58 L878.12,883.30 L878.55,884.01 L878.98,884.73 L879.41,885.45 L879.84,886.16 L880.27,886.89 L880.70,887.61 L881.13,888.33 L881.56,889.06 L881.99,889.78 L882.42,890.51 L882.85,891.24 L883.28,891.97 L883.71,892.70 L884.13,893.44 L884.56,894.17 L884.99,894.91 L885.42,895.64 L885.85,896.38 L886.28,897.12 L886.71,897.86 L887.14,898.60 L887.57,899.35 L888.00,900.09 L888.43,900.83 L888.86,901.58 L889.29,902.33 L889.72,903.07 L890.15,903.82 L890.58,904.57 L891.01,905.32 L891.43,906.07 L891.86,906.83 L892.29,907.58 L892.72,908.33 L893.15,909.09 L893.58,909.84 L894.01,910.60 L894.44,911.36 L894.87,912.11 L894.95,912.25 Z" fill="#00d7ff"/>
<path d="M706.80,912.25 L706.80,847.27 L707.23,847.27 L707.66,847.27 L708.09,847.27 L708.52,847.27 L708.95,847.27 L709.38,847.27 L709.81,847.27 L710.24,847.27 L710.66,847.27 L711.09,847.27 L711.52,847.27 L711.95,847.27 L712.38,847.27 L712.81,847.27 L713.24,847.27 L713.67,847.27 L714.10,847.27 L714.53,847.27 L714.96,847.27 L715.39,847.27 L715.82,847.27 L716.25,847.27 L716.68,847.27 L717.11,847.27 L717.53,847.27 L717.96,847.27 L718.39,847.27 L718.82,847.27 L719.25,847.27 L719.68,847.27 L720.11,847.27 L720.54,847.27 L720.97,847.27 L721.40,847.27 L721.83,847.27 L722.26,847.27 L722.69,847.27 L723.12,847.27 L723.55,847.27 L723.98,847.27 L724.40,847.27 L724.83,847.27 L725.26,847.27 L725.69,847.27 L726.12,847.27 L726.55,847.27 L726.98,847.27 L727.41,847.27 L727.84,847.27 L728.27,847.27 L728.70,847.27 L729.13,847.27 L729.56,847.27 L729.99,847.27 L730.42,847.27 L730.85,847.27 L731.27,847.27 L731.70,847.27 L732.13,847.27 L732.56,847.27 L732.99,847.27 L733.42,847.27 L733.85,847.27 L734.28,847.27 L734.71,847.27 L735.14,847.27 L735.57,847.27 L736.00,847.27 L736.43,847.27 L736.86,847.27 L737.29,847.27 L737.72,847.27 L738.14,847.27 L738.57,847.27 L739.00,847.27 L739.43,847.27 L739.86,847.28 L740.29,847.28 L740.72,847.28 L741.15,847.28 L741.58,847.28 L742.01,847.28 L742.44,847.28 L742.87,847.28 L743.30,847.28 L743.73,847.28 L744.16,847.28 L744.59,847.28 L745.02,847.28 L745.44,847.28 L745.87,847.28 L746.30,847.28 L746.73,847.28 L747.16,847.28 L747.59,847.28 L748.02,847.28 L748.45,847.28 L748.88,847.28 L749.31,847.28 L749.74,847.28 L750.17,847.28 L750.60,847.28 L751.03,847.28 L751.46,847.29 L751.89,847.29 L752.31,847.29 L752.74,847.29 L753.17,847.29 L753.60,847.29 L754.03,847.29 L754.46,847.29 L754.89,847.29 L755.32,847.29 L755.75,847.29 L756.18,847.29 L756.61,847.29 L757.04,847.30 L757.47,847.30 L757.90,847.30 L758.33,847.30 L758.76,847.30 L759.18,847.30 L759.61,847.30 L760.04,847.30 L760.47,847.31 L760.90,847.31 L761.33,847.31 L761.76,847.31 L762.19,847.31 L762.62,847.31 L763.05,847.31 L763.48,847.32 L763.91,847.32 L764.34,847.32 L764.77,847.32 L765.20,847.32 L765.63,847.33 L766.05,847.33 L766.48,847.33 L766.91,847.33 L767.34,847.33 L767.77,847.34 L768.20,847.34 L768.63,847.34 L769.06,847.35 L769.49,847.35 L769.92,847.35 L770.35,847.35 L770.78,847.36 L771.21,847.36 L771.64,847.36 L772.07,847.37 L772.50,847.37 L772.92,847.38 L773.35,847.38 L773.78,847.38 L774.21,847.39 L774.64,847.39 L775.07,847.40 L775.50,847.40 L775.93,847.41 L776.36,847.41 L776.79,847.42 L777.22,847.42 L777.65,847.43 L778.08,847.43 L778.51,847.44 L778.94,847.45 L779.37,847.45 L779.79,847.46 L780.22,847.47 L780.65,847.48 L781.08,847.48 L781.51,847.49 L781.94,847.50 L782.37,847.51 L782.80,847.52 L783.23,847.53 L783.66,847.54 L784.09,847.55 L784.52,847.56 L784.95,847.57 L785.38,847.58 L785.81,847.59 L786.24,847.60 L786.67,847.62 L787.09,847.63 L787.52,847.64 L787.95,847.66 L788.38,847.67 L788.81,847.69 L789.24,847.70 L789.67,847.72 L790.10,847.73 L790.53,847.75 L790.96,847.77 L791.39,847.79 L791.82,847.81 L792.25,847.83 L792.68,847.85 L793.11,847.87 L793.54,847.89 L793.96,847.92 L794.39,847.94 L794.82,847.96 L795.25,847.99 L795.68,848.02 L796.11,848.04 L796.54,848.07 L796.97,848.10 L797.40,848.13 L797.83,848.17 L798.26,848.20 L798.69,848.23 L799.12,848.27 L799.55,848.31 L799.98,848.34 L800.41,848.38 L800.83,848.43 L801.26,848.47 L801.69,848.51 L802.12,848.56 L802.55,848.60 L802.98,848.65 L803.41,848.70 L803.84,848.76 L804.27,848.81 L804.70,848.87 L805.13,848.92 L805.56,848.98 L805.99,849.05 L806.42,849.11 L806.85,849.18 L807.28,849.25 L807.70,849.32 L808.13,849.39 L808.56,849.47 L808.99,849.54 L809.42,849.63 L809.85,849.71 L810.28,849.80 L810.71,849.89 L811.14,849.98 L811.57,850.07 L812.00,850.17 L812.43,850.27 L812.86,850.38 L813.29,850.49 L813.72,850.60 L814.15,850.72 L814.57,850.83 L815.00,850.96 L815.43,851.08 L815.86,851.22 L816.29,851.35 L816.72,851.49 L817.15,851.63 L817.58,851.78 L818.01,851.93 L818.44,852.09 L818.87,852.25 L819.30,852.42 L819.73,852.59 L820.16,852.76 L820.59,852.94 L821.02,853.13 L821.45,853.32 L821.87,853.52 L822.30,853.72 L822.73,853.92 L823.16,854.14 L823.59,854.36 L824.02,854.58 L824.45,854.81 L824.88,855.04 L825.31,855.29 L825.74,855.53 L826.17,855.79 L826.60,856.05 L827.03,856.31 L827.46,856.59 L827.89,856.87 L828.32,857.15 L828.74,857.44 L829.17,857.74 L829.60,858.05 L830.03,858.36 L830.46,858.68 L830.89,859.00 L831.32,859.34 L831.75,859.67 L832.18,860.02 L832.61,860.37 L833.04,860.73 L833.47,861.10 L833.90,861.47 L834.33,861.85 L834.76,862.24 L835.19,862.63 L835.61,863.03 L836.04,863.44 L836.47,863.85 L836.90,864.27 L837.33,864.70 L837.76,865.13 L838.19,865.57 L838.62,866.02 L839.05,866.47 L839.48,866.93 L839.91,867.39 L840.34,867.87 L840.77,868.34 L841.20,868.83 L841.63,869.32 L842.06,869.82 L842.48,870.32 L842.91,870.83 L843.34,871.34 L843.77,871.86 L844.20,872.39 L844.63,872.92 L845.06,873.45 L845.49,873.99 L845.92,874.54 L846.35,875.09 L846.78,875.65 L847.21,876.21 L847.64,876.78 L848.07,877.35 L848.50,877.92 L848.93,878.51 L849.35,879.09 L849.78,879.68 L850.21,880.27 L850.64,880.87 L851.07,881.47 L851.50,882.08 L851.93,882.69 L852.36,883.30 L852.79,883.92 L853.22,884.54 L853.65,885.16 L854.08,885.79 L854.51,886.42 L854.94,887.06 L855.37,887.70 L855.80,888.34 L856.23,888.98 L856.65,889.63 L857.08,890.28 L857.51,890.93 L857.94,891.58 L858.37,892.24 L858.80,892.90 L859.23,893.56 L859.66,894.23 L860.09,894.89 L860.52,895.56 L860.95,896.23 L861.38,896.91 L861.81,897.58 L862.24,898.26 L862.67,898.94 L863.10,899.62 L863.52,900.30 L863.95,900.99 L864.38,901.67 L864.81,902.36 L865.24,903.05 L865.67,903.74 L866.10,904.43 L866.53,905.13 L866.96,905.82 L867.39,906.52 L867.82,907.22 L868.25,907.92 L868.68,908.62 L869.11,909.32 L869.54,910.02 L869.97,910.73 L870.39,911.43 L870.82,912.14 L870.89,912.25 Z" fill="#80ff80"/>
<path d="M706.80,912.25 L706.80,874.29 L707.23,874.29 L707.66,874.29 L708.09,874.29 L708.52,874.29 L708.95,874.29 L709.38,874.29 L709.81,874.29 L710.24,874.29 L710.66,874.29 L711.09,874.29 L711.52,874.29 L711.95,874.29 L712.38,874.29 L712.81,874.29 L713.24,874.29 L713.67,874.29 L714.10,874.29 L714.53,874.29 L714.96,874.29 L715.39,874.29 L715.82,874.29 L716.25,874.29 L716.68,874.29 L717.11,874.29 L717.53,874.29 L717.96,874.29 L718.39,874.29 L718.82,874.29 L719.25,874.29 L719.68,874.29 L720.11,874.29 L720.54,874.29 L720.97,874.29 L721.40,874.29 L721.83,874.29 L722.26,874.29 L722.69,874.29 L723.12,874.29 L723.55,874.29 L723.98,874.29 L724.40,874.29 L724.83,874.29 L725.26,874.29 L725.69,874.29 L726.12,874.29 L726.55,874.29 L726.98,874.29 L727.41,874.29 L727.84,874.29 L728.27,874.29 L728.70,874.29 L729.13,874.29 L729.56,874.29 L729.99,874.29 L730.42,874.29 L730.85,874.29 L731.27,874.29 L731.70,874.29 L732.13,874.29 L732.56,874.29 L732.99,874.29 L733.42,874.29 L733.85,874.29 L734.28,874.29 L734.71,874.29 L735.14,874.29 L735.57,874.29 L736.00,874.29 L736.43,874.29 L736.86,874.29 L737.29,874.29 L737.72,874.29 L738.14,874.29 L738.57,874.29 L739.00,874.29 L739.43,874.29 L739.86,874.29 L740.29,874.29 L740.72,874.29 L741.15,874.29 L741.58,874.29 L742.01,874.29 L742.44,874.29 L742.87,874.29 L743.30,874.29 L743.73,874.29 L744.16,874.29 L744.59,874.29 L745.02,874.29 L745.44,874.29 L745.87,874.29 L746.30,874.29 L746.73,874.29 L747.16,874.29 L747.59,874.29 L748.02,874.29 L748.45,874.29 L748.88,874.29 L749.31,874.29 L749.74,874.29 L750.17,874.29 L750.60,874.29 L751.03,874.29 L751.46,874.29 L751.89,874.29 L752.31,874.29 L752.74,874.29 L753.17,874.29 L753.60,874.29 L754.03,874.29 L754.46,874.29 L754.89,874.29 L755.32,874.29 L755.75,874.29 L756.18,874.29 L756.61,874.29 L757.04,874.29 L757.47,874.29 L757.90,874.29 L758.33,874.29 L758.76,874.29 L759.18,874.29 L759.61,874.29 L760.04,874.29 L760.47,874.29 L760.90,874.29 L761.33,874.29 L761.76,874.29 L762.19,874.29 L762.62,874.29 L763.05,874.29 L763.48,874.29 L763.91,874.29 L764.34,874.29 L764.77,874.29 L765.20,874.29 L765.63,874.29 L766.05,874.29 L766.48,874.29 L766.91,874.29 L767.34,874.29 L767.77,874.29 L768.20,874.29 L768.63,874.29 L769.06,874.29 L769.49,874.29 L769.92,874.30 L770.35,874.30 L770.78,874.30 L771.21,874.30 L771.64,874.30 L772.07,874.30 L772.50,874.30 L772.92,874.30 L773.35,874.30 L773.78,874.30 L774.21,874.30 L774.64,874.30 L775.07,874.30 L775.50,874.30 L775.93,874.30 L776.36,874.31 L776.79,874.31 L777.22,874.31 L777.65,874.31 L778.08,874.31 L778.51,874.31 L778.94,874.31 L779.37,874.31 L779.79,874.31 L780.22,874.32 L780.65,874.32 L781.08,874.32 L781.51,874.32 L781.94,874.32 L782.37,874.32 L782.80,874.33 L783.23,874.33 L783.66,874.33 L784.09,874.33 L784.52,874.34 L784.95,874.34 L785.38,874.34 L785.81,874.35 L786.24,874.35 L786.67,874.35 L787.09,874.36 L787.52,874.36 L787.95,874.36 L788.38,874.37 L788.81,874.37 L789.24,874.38 L789.67,874.38 L790.10,874.39 L790.53,874.39 L790.96,874.40 L791.39,874.41 L791.82,874.41 L792.25,874.42 L792.68,874.43 L793.11,874.43 L793.54,874.44 L793.96,874.45 L794.39,874.46 L794.82,874.47 L795.25,874.48 L795.68,874.49 L796.11,874.50 L796.54,874.52 L796.97,874.53 L797.40,874.54 L797.83,874.56 L798.26,874.57 L798.69,874.59 L799.12,874.60 L799.55,874.62 L799.98,874.64 L800.41,874.66 L800.83,874.68 L801.26,874.70 L801.69,874.72 L802.12,874.75 L802.55,874.77 L802.98,874.80 L803.41,874.83 L803.84,874.86 L804.27,874.89 L804.70,874.92 L805.13,874.96 L805.56,875.00 L805.99,875.03 L806.42,875.08 L806.85,875.12 L807.28,875.16 L807.70,875.21 L808.13,875.26 L808.56,875.31 L808.99,875.37 L809.42,875.43 L809.85,875.49 L810.28,875.55 L810.71,875.62 L811.14,875.69 L811.57,875.77 L812.00,875.85 L812.43,875.93 L812.86,876.01 L813.29,876.10 L813.72,876.20 L814.15,876.30 L814.57,876.40 L815.00,876.51 L815.43,876.62 L815.86,876.74 L816.29,876.87 L816.72,877.00 L817.15,877.13 L817.58,877.27 L818.01,877.42 L818.44,877.58 L818.87,877.74 L819.30,877.90 L819.73,878.08 L820.16,878.26 L820.59,878.44 L821.02,878.64 L821.45,878.84 L821.87,879.05 L822.30,879.27 L822.73,879.49 L823.16,879.73 L823.59,879.97 L824.02,880.22 L824.45,880.47 L824.88,880.74 L825.31,881.01 L825.74,881.29 L826.17,881.58 L826.60,881.88 L827.03,882.19 L827.46,882.51 L827.89,882.83 L828.32,883.16 L828.74,883.50 L829.17,883.85 L829.60,884.21 L830.03,884.57 L830.46,884.95 L830.89,885.33 L831.32,885.72 L831.75,886.11 L832.18,886.52 L832.61,886.93 L833.04,887.35 L833.47,887.77 L833.90,888.21 L834.33,888.65 L834.76,889.09 L835.19,889.55 L835.61,890.01 L836.04,890.47 L836.47,890.94 L836.90,891.42 L837.33,891.90 L837.76,892.39 L838.19,892.88 L838.62,893.38 L839.05,893.89 L839.48,894.39 L839.91,894.91 L840.34,895.42 L840.77,895.95 L841.20,896.47 L841.63,897.00 L842.06,897.53 L842.48,898.07 L842.91,898.61 L843.34,899.15 L843.77,899.70 L844.20,900.25 L844.63,900.80 L845.06,901.36 L845.49,901.92 L845.92,902.48 L846.35,903.04 L846.78,903.60 L847.21,904.17 L847.64,904.74 L848.07,905.31 L848.50,905.88 L848.93,906.46 L849.35,907.04 L849.78,907.61 L850.21,908.19 L850.64,908.78 L851.07,909.36 L851.50,909.94 L851.93,910.53 L852.36,911.11 L852.79,911.70 L853.19,912.25 Z" fill="#ffd000"/>
<path d="M706.80,912.25 L706.80,895.40 L707.23,895.40 L707.66,895.40 L708.09,895.40 L708.52,895.40 L708.95,895.40 L709.38,895.40 L709.81,895.40 L710.24,895.40 L710.66,895.40 L711.09,895.40 L711.52,895.40 L711.95,895.40 L712.38,895.40 L712.81,895.40 L713.24,895.40 L713.67,895.40 L714.10,895.40 L714.53,895.40 L714.96,895.40 L715.39,895.40 L715.82,895.40 L716.25,895.40 L716.68,895.40 L717.11,895.40 L717.53,895.40 L717.96,895.40 L718.39,895.40 L718.82,895.40 L719.25,895.40 L719.68,895.40 L720.11,895.40 L720.54,895.40 L720.97,895.40 L721.40,895.40 L721.83,895.40 L722.26,895.40 L722.69,895.40 L723.12,895.40 L723.55,895.40 L723.98,895.40 L724.40,895.40 L724.83,895.40 L725.26,895.40 L725.69,895.40 L726.12,895.40 L726.55,895.40 L726.98,895.40 L727.41,895.40 L727.84,895.40 L728.27,895.40 L728.70,895.40 L729.13,895.40 L729.56,895.40 L729.99,895.40 L730.42,895.40 L730.85,895.40 L731.27,895.40 L731.70,895.40 L732.13,895.40 L732.56,895.40 L732.99,895.40 L733.42,895.40 L733.85,895.40 L734.28,895.40 L734.71,895.40 L735.14,895.40 L735.57,895.40 L736.00,895.40 L736.43,895.40 L736.86,895.40 L737.29,895.40 L737.72,895.40 L738.14,895.40 L738.57,895.40 L739.00,895.40 L739.43,895.40 L739.86,895.40 L740.29,895.40 L740.72,895.40 L741.15,895.40 L741.58,895.40 L742.01,895.40 L742.44,895.40 L742.87,895.40 L743.30,895.40 L743.73,895.40 L744.16,895.40 L744.59,895.40 L745.02,895.40 L745.44,895.40 L745.87,895.40 L746.30,895.40 L746.73,895.40 L747.16,895.40 L747.59,895.40 L748.02,895.40 L748.45,895.40 L748.88,895.40 L749.31,895.40 L749.74,895.40 L750.17,895.40 L750.60,895.40 L751.03,895.40 L751.46,895.40 L751.89,895.40 L752.31,895.40 L752.74,895.40 L753.17,895.40 L753.60,895.40 L754.03,895.40 L754.46,895.40 L754.89,895.40 L755.32,895.40 L755.75,895.40 L756.18,895.40 L756.61,895.40 L757.04,895.40 L757.47,895.40 L757.90,895.40 L758.33,895.40 L758.76,895.40 L759.18,895.40 L759.61,895.40 L760.04,895.40 L760.47,895.40 L760.90,895.40 L761.33,895.40 L761.76,895.40 L762.19,895.40 L762.62,895.40 L763.05,895.40 L763.48,895.40 L763.91,895.40 L764.34,895.40 L764.77,895.40 L765.20,895.40 L765.63,895.40 L766.05,895.40 L766.48,895.40 L766.91,895.40 L767.34,895.40 L767.77,895.40 L768.20,895.40 L768.63,895.40 L769.06,895.40 L769.49,895.40 L769.92,895.40 L770.35,895.40 L770.78,895.40 L771.21,895.40 L771.64,895.40 L772.07,895.40 L772.50,895.40 L772.92,895.40 L773.35,895.40 L773.78,895.40 L774.21,895.40 L774.64,895.40 L775.07,895.40 L775.50,895.40 L775.93,895.40 L776.36,895.40 L776.79,895.40 L777.22,895.40 L777.65,895.40 L778.08,895.40 L778.51,895.40 L778.94,895.40 L779.37,895.40 L779.79,895.40 L780.22,895.40 L780.65,895.40 L781.08,895.40 L781.51,895.40 L781.94,895.40 L782.37,895.40 L782.80,895.40 L783.23,895.40 L783.66,895.40 L784.09,895.40 L784.52,895.40 L784.95,895.40 L785.38,895.40 L785.81,895.40 L786.24,895.40 L786.67,895.40 L787.09,895.40 L787.52,895.40 L787.95,895.40 L788.38,895.40 L788.81,895.40 L789.24,895.40 L789.67,895.40 L790.10,895.40 L790.53,895.40 L790.96,895.40 L791.39,895.40 L791.82,895.40 L792.25,895.40 L792.68,895.41 L793.11,895.41 L793.54,895.41 L793.96,895.41 L794.39,895.41 L794.82,895.41 L795.25,895.41 L795.68,895.41 L796.11,895.41 L796.54,895.41 L796.97,895.41 L797.40,895.42 L797.83,895.42 L798.26,895.42 L798.69,895.42 L799.12,895.42 L799.55,895.42 L799.98,895.43 L800.41,895.43 L800.83,895.43 L801.26,895.43 L801.69,895.44 L802.12,895.44 L802.55,895.44 L802.98,895.45 L803.41,895.45 L803.84,895.46 L804.27,895.46 L804.70,895.47 L805.13,895.47 L805.56,895.48 L805.99,895.49 L806.42,895.49 L806.85,895.50 L807.28,895.51 L807.70,895.52 L808.13,895.53 L808.56,895.54 L808.99,895.55 L809.42,895.57 L809.85,895.58 L810.28,895.60 L810.71,895.61 L811.14,895.63 L811.57,895.65 L812.00,895.67 L812.43,895.70 L812.86,895.72 L813.29,895.75 L813.72,895.78 L814.15,895.81 L814.57,895.84 L815.00,895.88 L815.43,895.92 L815.86,895.97 L816.29,896.01 L816.72,896.06 L817.15,896.12 L817.58,896.18 L818.01,896.24 L818.44,896.31 L818.87,896.38 L819.30,896.46 L819.73,896.54 L820.16,896.64 L820.59,896.73 L821.02,896.84 L821.45,896.95 L821.87,897.07 L822.30,897.20 L822.73,897.33 L823.16,897.48 L823.59,897.63 L824.02,897.79 L824.45,897.97 L824.88,898.15 L825.31,898.34 L825.74,898.55 L826.17,898.76 L826.60,898.99 L827.03,899.23 L827.46,899.48 L827.89,899.74 L828.32,900.02 L828.74,900.31 L829.17,900.60 L829.60,900.91 L830.03,901.24 L830.46,901.57 L830.89,901.92 L831.32,902.28 L831.75,902.64 L832.18,903.02 L832.61,903.42 L833.04,903.82 L833.47,904.23 L833.90,904.65 L834.33,905.08 L834.76,905.52 L835.19,905.97 L835.61,906.42 L836.04,906.89 L836.47,907.36 L836.90,907.84 L837.33,908.33 L837.76,908.82 L838.19,909.32 L838.62,909.82 L839.05,910.33 L839.48,910.84 L839.91,911.36 L840.34,911.89 L840.63,912.25 Z" fill="#ff2800"/>
<path d="M706.8,360H1071.9M835.5,62.9V912.25" stroke="#6060c8" stroke-opacity="0.16" stroke-width="1.3"/>
<path d="M829.15,912.25V903.65M829.15,62.90V71.80M950.00,912.25V903.65M950.00,62.90V71.80M706.80,700.60H715.80M1071.90,700.60H1062.90M706.80,487.60H715.80M1071.90,487.60H1062.90M706.80,274.50H715.80M1071.90,274.50H1062.90" stroke="#262626" stroke-width="1.5" fill="none"/>
<rect x="706.8" y="62.9" width="365.10" height="849.35" fill="none" stroke="#0a0a0a" stroke-width="1.5"/>
<path d="M753.45,913.9H828.65" stroke="#b84848" stroke-opacity="0.62" stroke-width="1.7" stroke-dasharray="2.4 3.62"/>
<rect x="1097.65" y="61.4" width="35.15" height="850.90" fill="url(#jet)"/>
<path d="M1132.80,202.97H1124.20M1132.80,344.56H1124.20M1132.80,486.00H1124.20M1132.80,629.18H1124.20M1132.80,770.65H1124.20" stroke="#262626" stroke-width="1.5" fill="none"/>
<rect x="1097.65" y="61.4" width="35.15" height="850.90" fill="none" stroke="#0a0a0a" stroke-width="1.5"/>
<text x="0" y="0" transform="translate(666.58,79.24) scale(1,1.0300)" class="tl" style="font-family:'Liberation Serif', serif;font-size:45px">2</text>
<text x="0" y="0" transform="translate(642.02,291.97) scale(0.730,1.0300) translate(-11.88,0)" class="tl" style="font-family:'Liberation Serif', serif;font-size:45px">1</text><text x="0" y="0" transform="translate(654.30,291.97) scale(1,1.0300)" class="tl" style="font-family:'Liberation Serif', serif;font-size:45px">.</text><text x="0" y="0" transform="translate(677.23,291.97) scale(0.890,1.0300) translate(-11.68,0)" class="tl" style="font-family:'Liberation Serif', serif;font-size:45px">5</text>
<text x="0" y="0" transform="translate(677.32,503.70) scale(0.730,1.0300) translate(-11.88,0)" class="tl" style="font-family:'Liberation Serif', serif;font-size:45px">1</text>
<text x="0" y="0" transform="translate(643.05,716.53) scale(0.940,1.0300) translate(-11.25,0)" class="tl" style="font-family:'Liberation Serif', serif;font-size:45px">0</text><text x="0" y="0" transform="translate(654.30,716.53) scale(1,1.0300)" class="tl" style="font-family:'Liberation Serif', serif;font-size:45px">.</text><text x="0" y="0" transform="translate(677.23,716.53) scale(0.890,1.0300) translate(-11.68,0)" class="tl" style="font-family:'Liberation Serif', serif;font-size:45px">5</text>
<text x="0" y="0" transform="translate(678.04,929.84) scale(0.940,1.0300) translate(-11.25,0)" class="tl" style="font-family:'Liberation Serif', serif;font-size:45px">0</text>
<text x="0" y="0" transform="translate(707.90,971.59) scale(0.940,1.0300) translate(-11.25,0)" class="tl" style="font-family:'Liberation Serif', serif;font-size:45px">0</text>
<text x="0" y="0" transform="translate(828.40,971.70) scale(0.730,1.0300) translate(-11.88,0)" class="tl" style="font-family:'Liberation Serif', serif;font-size:45px">1</text>
<text x="0" y="0" transform="translate(939.60,971.74) scale(1,1.0300)" class="tl" style="font-family:'Liberation Serif', serif;font-size:45px">2</text>
<text x="0" y="0" transform="translate(1059.90,971.52) scale(1,1.0300)" class="tl" style="font-family:'Liberation Serif', serif;font-size:45px">3</text>
<text x="0" y="0" transform="translate(1157.50,74.57) scale(0.730,1.0450) translate(-10.69,0)" class="tl" style="font-family:'Liberation Serif', serif;font-size:40.5px">1</text><text x="0" y="0" transform="translate(1168.56,74.57) scale(1,1.0450)" class="tl" style="font-family:'Liberation Serif', serif;font-size:40.5px">.</text><text x="0" y="0" transform="translate(1188.81,74.57) scale(0.940,1.0450) translate(-10.12,0)" class="tl" style="font-family:'Liberation Serif', serif;font-size:40.5px">0</text><text x="0" y="0" transform="translate(1198.94,74.57) scale(1,1.0450)" class="tl" style="font-family:'Liberation Serif', serif;font-size:40.5px">3</text>
<text x="0" y="0" transform="translate(1157.50,216.12) scale(0.730,1.0450) translate(-10.69,0)" class="tl" style="font-family:'Liberation Serif', serif;font-size:40.5px">1</text><text x="0" y="0" transform="translate(1168.56,216.12) scale(1,1.0450)" class="tl" style="font-family:'Liberation Serif', serif;font-size:40.5px">.</text><text x="0" y="0" transform="translate(1188.81,216.12) scale(0.940,1.0450) translate(-10.12,0)" class="tl" style="font-family:'Liberation Serif', serif;font-size:40.5px">0</text><text x="0" y="0" transform="translate(1198.94,216.12) scale(1,1.0450)" class="tl" style="font-family:'Liberation Serif', serif;font-size:40.5px">2</text><text x="0" y="0" transform="translate(1229.70,216.12) scale(0.890,1.0450) translate(-10.51,0)" class="tl" style="font-family:'Liberation Serif', serif;font-size:40.5px">5</text>
<text x="0" y="0" transform="translate(1157.50,358.67) scale(0.730,1.0450) translate(-10.69,0)" class="tl" style="font-family:'Liberation Serif', serif;font-size:40.5px">1</text><text x="0" y="0" transform="translate(1168.56,358.67) scale(1,1.0450)" class="tl" style="font-family:'Liberation Serif', serif;font-size:40.5px">.</text><text x="0" y="0" transform="translate(1188.81,358.67) scale(0.940,1.0450) translate(-10.12,0)" class="tl" style="font-family:'Liberation Serif', serif;font-size:40.5px">0</text><text x="0" y="0" transform="translate(1198.94,358.67) scale(1,1.0450)" class="tl" style="font-family:'Liberation Serif', serif;font-size:40.5px">2</text>
<text x="0" y="0" transform="translate(1157.50,500.82) scale(0.730,1.0450) translate(-10.69,0)" class="tl" style="font-family:'Liberation Serif', serif;font-size:40.5px">1</text><text x="0" y="0" transform="translate(1168.56,500.82) scale(1,1.0450)" class="tl" style="font-family:'Liberation Serif', serif;font-size:40.5px">.</text><text x="0" y="0" transform="translate(1188.81,500.82) scale(0.940,1.0450) translate(-10.12,0)" class="tl" style="font-family:'Liberation Serif', serif;font-size:40.5px">0</text><text x="0" y="0" transform="translate(1208.13,500.82) scale(0.730,1.0450) translate(-10.69,0)" class="tl" style="font-family:'Liberation Serif', serif;font-size:40.5px">1</text><text x="0" y="0" transform="translate(1229.70,500.82) scale(0.890,1.0450) translate(-10.51,0)" class="tl" style="font-family:'Liberation Serif', serif;font-size:40.5px">5</text>
<text x="0" y="0" transform="translate(1157.50,643.27) scale(0.730,1.0450) translate(-10.69,0)" class="tl" style="font-family:'Liberation Serif', serif;font-size:40.5px">1</text><text x="0" y="0" transform="translate(1168.56,643.27) scale(1,1.0450)" class="tl" style="font-family:'Liberation Serif', serif;font-size:40.5px">.</text><text x="0" y="0" transform="translate(1188.81,643.27) scale(0.940,1.0450) translate(-10.12,0)" class="tl" style="font-family:'Liberation Serif', serif;font-size:40.5px">0</text><text x="0" y="0" transform="translate(1208.13,643.27) scale(0.730,1.0450) translate(-10.69,0)" class="tl" style="font-family:'Liberation Serif', serif;font-size:40.5px">1</text>
<text x="0" y="0" transform="translate(1157.50,784.77) scale(0.730,1.0450) translate(-10.69,0)" class="tl" style="font-family:'Liberation Serif', serif;font-size:40.5px">1</text><text x="0" y="0" transform="translate(1168.56,784.77) scale(1,1.0450)" class="tl" style="font-family:'Liberation Serif', serif;font-size:40.5px">.</text><text x="0" y="0" transform="translate(1188.81,784.77) scale(0.940,1.0450) translate(-10.12,0)" class="tl" style="font-family:'Liberation Serif', serif;font-size:40.5px">0</text><text x="0" y="0" transform="translate(1209.06,784.77) scale(0.940,1.0450) translate(-10.12,0)" class="tl" style="font-family:'Liberation Serif', serif;font-size:40.5px">0</text><text x="0" y="0" transform="translate(1229.70,784.77) scale(0.890,1.0450) translate(-10.51,0)" class="tl" style="font-family:'Liberation Serif', serif;font-size:40.5px">5</text>
<text x="0" y="0" transform="translate(1157.50,926.97) scale(0.730,1.0450) translate(-10.69,0)" class="tl" style="font-family:'Liberation Serif', serif;font-size:40.5px">1</text>
<g fill="#000">
<text x="0" y="0" transform="translate(45.06,36.60) scale(1.0311,1.0000)" style="font-family:'Liberation Serif', serif;font-size:52px;">Linearized</text>
<text x="0" y="0" transform="translate(293.14,36.60) scale(0.8979,1.0000)" style="font-family:'Liberation Serif', serif;font-size:53px;">:</text>
<g transform="translate(0.00,0)" fill="none" stroke="#000" stroke-linecap="round"><path d="M341.2,6 L335.2,30.5" stroke-width="3"/><path d="M335.4,29.5 C334.4,34.5 335.2,36.9 337.6,36.9 C340.6,36.9 343,33 344.5,29.4" stroke-width="1.6"/><path d="M331.2,15.4 H346" stroke-width="1.9" stroke-linecap="butt"/></g>
<rect x="366.20" y="18.10" width="32.60" height="2.2" fill="#303030"/><rect x="366.20" y="27.50" width="32.60" height="2.2" fill="#303030"/>
<text x="0" y="0" transform="translate(416.68,37.00) scale(0.9911,1.0000)" style="font-family:'Liberation Serif', serif;font-size:51px;">20</text>
<text x="0" y="0" transform="translate(686.86,36.60) scale(1.0307,1.0000)" style="font-family:'Liberation Serif', serif;font-size:52px;">Nonlinear</text>
<text x="0" y="0" transform="translate(920.74,36.60) scale(0.8979,1.0000)" style="font-family:'Liberation Serif', serif;font-size:53px;">:</text>
<g transform="translate(628.10,0)" fill="none" stroke="#000" stroke-linecap="round"><path d="M341.2,6 L335.2,30.5" stroke-width="3"/><path d="M335.4,29.5 C334.4,34.5 335.2,36.9 337.6,36.9 C340.6,36.9 343,33 344.5,29.4" stroke-width="1.6"/><path d="M331.2,15.4 H346" stroke-width="1.9" stroke-linecap="butt"/></g>
<rect x="991.90" y="18.10" width="33.30" height="2.2" fill="#303030"/><rect x="991.90" y="27.50" width="33.30" height="2.2" fill="#303030"/>
<text x="0" y="0" transform="translate(1043.16,37.00) scale(0.9996,1.0000)" style="font-family:'Liberation Serif', serif;font-size:51px;">20</text>
<g fill="none" stroke="#000" stroke-linecap="round"><path d="M8.6,382.6 C9.8,378.4 12.6,375.1 16,375.1 C19.6,375.1 21.6,379.6 25.2,380.4" stroke-width="2.4"/><path d="M31.3,374.4 L4.2,404.3" stroke-width="1.4"/><path d="M9.6,397.6 C12.6,398 14.2,403.4 17.6,403.4 C22.2,403.4 26.4,400 28.5,394.4" stroke-width="2.7"/></g>
<g fill="none" stroke="#000" stroke-linecap="round"><path d="M236.2,977.6 C237.2,973.4 238.9,968.1 242.6,967.7 C245.6,967.4 247.2,969.6 246.6,973" stroke-width="1.6"/><path d="M247.6,975.5 C249.6,971 253,968.1 257,967.9 C259.6,967.8 261.6,968.8 262.3,970.6" stroke-width="1.5"/></g><polygon points="245.4,970.6 248.3,971.2 243.4,998 238.9,998" fill="#000"/><circle cx="259.8" cy="972.9" r="3.3" fill="#000"/>
</g>
</svg>
</body></html>
